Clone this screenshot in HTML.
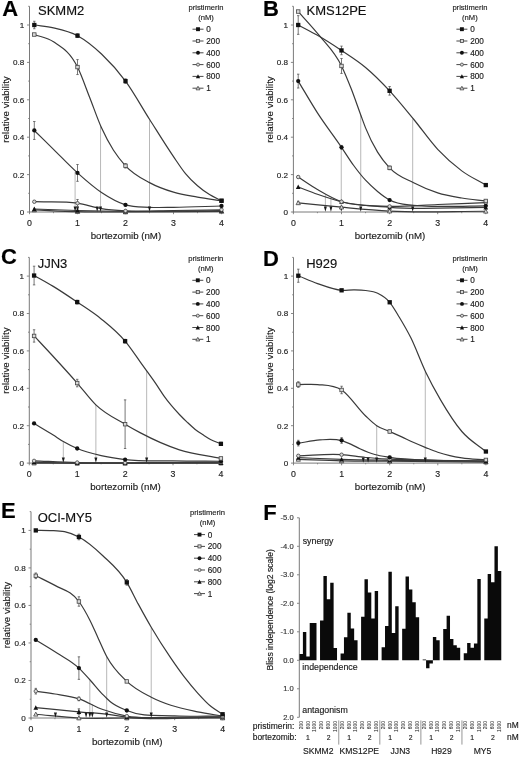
<!DOCTYPE html>
<html><head><meta charset="utf-8"><style>
html,body{margin:0;padding:0;background:#fff;width:520px;height:757px;overflow:hidden}
svg{display:block;filter:grayscale(1)}
text{font-family:"Liberation Sans", sans-serif}
</style></head><body>
<svg width="520" height="757" viewBox="0 0 520 757">
<rect width="520" height="757" fill="#fff"/>
<text x="2.2" y="16.2" font-size="22" font-weight="bold" fill="#000" stroke="#000" stroke-width="0.15">A</text>
<text x="38" y="14.8" font-size="13" fill="#111" stroke="#111" stroke-width="0.15">SKMM2</text>
<line x1="29.5" y1="212.5" x2="29.5" y2="6.3" stroke="#7a7a7a" stroke-width="1"/>
<line x1="27" y1="212" x2="29.5" y2="212" stroke="#7a7a7a" stroke-width="0.9"/>
<line x1="28.2" y1="193.3" x2="29.5" y2="193.3" stroke="#7a7a7a" stroke-width="0.9"/>
<line x1="27" y1="174.6" x2="29.5" y2="174.6" stroke="#7a7a7a" stroke-width="0.9"/>
<line x1="28.2" y1="155.9" x2="29.5" y2="155.9" stroke="#7a7a7a" stroke-width="0.9"/>
<line x1="27" y1="137.2" x2="29.5" y2="137.2" stroke="#7a7a7a" stroke-width="0.9"/>
<line x1="28.2" y1="118.5" x2="29.5" y2="118.5" stroke="#7a7a7a" stroke-width="0.9"/>
<line x1="27" y1="99.8" x2="29.5" y2="99.8" stroke="#7a7a7a" stroke-width="0.9"/>
<line x1="28.2" y1="81.1" x2="29.5" y2="81.1" stroke="#7a7a7a" stroke-width="0.9"/>
<line x1="27" y1="62.4" x2="29.5" y2="62.4" stroke="#7a7a7a" stroke-width="0.9"/>
<line x1="28.2" y1="43.7" x2="29.5" y2="43.7" stroke="#7a7a7a" stroke-width="0.9"/>
<line x1="27" y1="25" x2="29.5" y2="25" stroke="#7a7a7a" stroke-width="0.9"/>
<line x1="28.2" y1="6.3" x2="29.5" y2="6.3" stroke="#7a7a7a" stroke-width="0.9"/>
<text x="24.2" y="214.9" font-size="8.1" text-anchor="end" fill="#222" stroke="#222" stroke-width="0.15">0</text>
<text x="24.2" y="177.5" font-size="8.1" text-anchor="end" fill="#222" stroke="#222" stroke-width="0.15">0.2</text>
<text x="24.2" y="140.1" font-size="8.1" text-anchor="end" fill="#222" stroke="#222" stroke-width="0.15">0.4</text>
<text x="24.2" y="102.7" font-size="8.1" text-anchor="end" fill="#222" stroke="#222" stroke-width="0.15">0.6</text>
<text x="24.2" y="65.3" font-size="8.1" text-anchor="end" fill="#222" stroke="#222" stroke-width="0.15">0.8</text>
<text x="24.2" y="27.9" font-size="8.1" text-anchor="end" fill="#222" stroke="#222" stroke-width="0.15">1</text>
<line x1="29" y1="212" x2="222" y2="212" stroke="#7a7a7a" stroke-width="1"/>
<line x1="29.5" y1="212" x2="29.5" y2="214.2" stroke="#7a7a7a" stroke-width="0.9"/>
<line x1="53.5" y1="212" x2="53.5" y2="213.2" stroke="#7a7a7a" stroke-width="0.9"/>
<line x1="77.5" y1="212" x2="77.5" y2="214.2" stroke="#7a7a7a" stroke-width="0.9"/>
<line x1="101.5" y1="212" x2="101.5" y2="213.2" stroke="#7a7a7a" stroke-width="0.9"/>
<line x1="125.5" y1="212" x2="125.5" y2="214.2" stroke="#7a7a7a" stroke-width="0.9"/>
<line x1="149.5" y1="212" x2="149.5" y2="213.2" stroke="#7a7a7a" stroke-width="0.9"/>
<line x1="173.5" y1="212" x2="173.5" y2="214.2" stroke="#7a7a7a" stroke-width="0.9"/>
<line x1="197.5" y1="212" x2="197.5" y2="213.2" stroke="#7a7a7a" stroke-width="0.9"/>
<line x1="221.5" y1="212" x2="221.5" y2="214.2" stroke="#7a7a7a" stroke-width="0.9"/>
<text x="29.5" y="226.2" font-size="8.8" text-anchor="middle" fill="#222" stroke="#222" stroke-width="0.15">0</text>
<text x="77.5" y="226.2" font-size="8.8" text-anchor="middle" fill="#222" stroke="#222" stroke-width="0.15">1</text>
<text x="125.5" y="226.2" font-size="8.8" text-anchor="middle" fill="#222" stroke="#222" stroke-width="0.15">2</text>
<text x="173.5" y="226.2" font-size="8.8" text-anchor="middle" fill="#222" stroke="#222" stroke-width="0.15">3</text>
<text x="221.5" y="226.2" font-size="8.8" text-anchor="middle" fill="#222" stroke="#222" stroke-width="0.15">4</text>
<text x="125.9" y="239" font-size="9.7" text-anchor="middle" fill="#1a1a1a" stroke="#1a1a1a" stroke-width="0.15">bortezomib (nM)</text>
<text x="0" y="0" font-size="9.8" text-anchor="middle" fill="#1a1a1a" stroke="#1a1a1a" stroke-width="0.15" transform="translate(8.9,109.45) rotate(-90)">relative viability</text>
<text x="206" y="9.6" font-size="7.6" text-anchor="middle" fill="#222" stroke="#222" stroke-width="0.15">pristimerin</text>
<text x="206" y="19.6" font-size="7.6" text-anchor="middle" fill="#222" stroke="#222" stroke-width="0.15">(nM)</text>
<line x1="192.5" y1="29.2" x2="203.5" y2="29.2" stroke="#333" stroke-width="0.9"/>
<rect x="196.05" y="27.25" width="3.9" height="3.9" fill="#111"/>
<text x="206.3" y="32.2" font-size="8.2" fill="#1a1a1a" stroke="#1a1a1a" stroke-width="0.15">0</text>
<line x1="192.5" y1="41" x2="203.5" y2="41" stroke="#333" stroke-width="0.9"/>
<rect x="196.45" y="39.45" width="3.1" height="3.1" fill="#d8d8d8" stroke="#444" stroke-width="0.8"/>
<text x="206.3" y="44" font-size="8.2" fill="#1a1a1a" stroke="#1a1a1a" stroke-width="0.15">200</text>
<line x1="192.5" y1="52.8" x2="203.5" y2="52.8" stroke="#333" stroke-width="0.9"/>
<circle cx="198" cy="52.8" r="1.95" fill="#111"/>
<text x="206.3" y="55.8" font-size="8.2" fill="#1a1a1a" stroke="#1a1a1a" stroke-width="0.15">400</text>
<line x1="192.5" y1="64.6" x2="203.5" y2="64.6" stroke="#333" stroke-width="0.9"/>
<circle cx="198" cy="64.6" r="1.55" fill="#d8d8d8" stroke="#444" stroke-width="0.8"/>
<text x="206.3" y="67.6" font-size="8.2" fill="#1a1a1a" stroke="#1a1a1a" stroke-width="0.15">600</text>
<line x1="192.5" y1="76.4" x2="203.5" y2="76.4" stroke="#333" stroke-width="0.9"/>
<path d="M198,74.15 L200.15,78.35 L195.85,78.35Z" fill="#111"/>
<text x="206.3" y="79.4" font-size="8.2" fill="#1a1a1a" stroke="#1a1a1a" stroke-width="0.15">800</text>
<line x1="192.5" y1="88.2" x2="203.5" y2="88.2" stroke="#333" stroke-width="0.9"/>
<path d="M198,86.25 L199.95,89.85 L196.05,89.85Z" fill="#d8d8d8" stroke="#444" stroke-width="0.8"/>
<text x="206.3" y="91.2" font-size="8.2" fill="#1a1a1a" stroke="#1a1a1a" stroke-width="0.15">1</text>
<line x1="75.1" y1="171.8" x2="75.1" y2="209" stroke="#b0b0b0" stroke-width="0.9"/>
<line x1="77.5" y1="206.76" x2="77.5" y2="209" stroke="#b0b0b0" stroke-width="0.9"/>
<line x1="97.18" y1="209.76" x2="97.18" y2="209" stroke="#b0b0b0" stroke-width="0.9"/>
<line x1="100.54" y1="125.98" x2="100.54" y2="209" stroke="#b0b0b0" stroke-width="0.9"/>
<line x1="149.5" y1="120.37" x2="149.5" y2="209" stroke="#b0b0b0" stroke-width="0.9"/>
<path d="M34.3,209.94 C48.7,210.5 63.1,211.28 77.5,211.63 C93.5,212.01 109.5,211.95 125.5,212 C157.5,212.1 189.5,211.63 221.5,211.44" fill="none" stroke="#3a3a3a" stroke-width="1.2"/>
<path d="M34.3,209.01 C48.7,209.51 63.1,210.11 77.5,210.5 C93.5,210.94 109.5,211.28 125.5,211.44 C157.5,211.75 189.5,210.82 221.5,210.5" fill="none" stroke="#3a3a3a" stroke-width="1.2"/>
<path d="M34.3,201.72 C48.7,202.21 63.1,200.94 77.5,203.21 C85.5,204.47 93.5,207.36 101.5,208.63 C109.5,209.91 117.5,210.4 125.5,210.88 C141.5,211.83 157.5,210.69 173.5,210.5 C189.5,210.32 205.5,210.01 221.5,209.76" fill="none" stroke="#3a3a3a" stroke-width="1.2"/>
<path d="M34.3,130.47 C40.7,136.76 47.1,143.06 53.5,149.35 C61.5,157.22 69.5,165.72 77.5,172.92 C85.5,180.12 93.5,187.22 101.5,192.55 C109.5,197.88 117.5,202.43 125.5,204.89 C133.5,207.36 141.5,206.92 149.5,207.32 C157.5,207.73 165.5,207.4 173.5,207.32 C189.5,207.18 205.5,206.45 221.5,206.02" fill="none" stroke="#3a3a3a" stroke-width="1.2"/>
<path d="M34.3,34.54 C40.7,36.97 47.1,37.49 53.5,41.83 C61.5,47.26 69.5,50.97 77.5,67.07 C81.5,75.13 85.5,86.87 89.5,97 C93.5,107.12 97.5,118.97 101.5,127.85 C105.5,136.73 109.5,143.96 113.5,150.29 C117.5,156.62 121.5,161.43 125.5,165.81 C133.5,174.58 141.5,178.25 149.5,182.64 C157.5,187.04 165.5,189.78 173.5,192.18 C181.5,194.58 189.5,195.61 197.5,197.04 C205.5,198.47 213.5,199.53 221.5,200.78" fill="none" stroke="#3a3a3a" stroke-width="1.2"/>
<path d="M34.3,25 C40.7,25.94 47.1,26.35 53.5,27.81 C61.5,29.62 69.5,31.3 77.5,35.66 C85.5,40.02 93.5,46.41 101.5,53.99 C109.5,61.56 117.5,70.22 125.5,81.1 C133.5,91.98 141.5,106.66 149.5,119.25 C157.5,131.84 165.5,144.93 173.5,156.65 C177.5,162.51 181.5,168.8 185.5,173.66 C189.5,178.53 193.5,182.33 197.5,185.82 C201.5,189.31 205.5,192.12 209.5,194.61 C213.5,197.1 217.5,198.72 221.5,200.78" fill="none" stroke="#3a3a3a" stroke-width="1.2"/>
<path d="M73.6,206.4 L76.6,206.4 L75.1,211.7Z" fill="#1a1a1a"/>
<path d="M76,206.4 L79,206.4 L77.5,211.7Z" fill="#1a1a1a"/>
<path d="M95.68,206.4 L98.68,206.4 L97.18,211.7Z" fill="#1a1a1a"/>
<path d="M99.04,206.4 L102.04,206.4 L100.54,211.7Z" fill="#1a1a1a"/>
<path d="M148,206.4 L151,206.4 L149.5,211.7Z" fill="#1a1a1a"/>
<path d="M34.3,207.79 L36.45,211.79 L32.15,211.79Z" fill="#d8d8d8" stroke="#444" stroke-width="0.8"/>
<path d="M77.5,209.48 L79.65,213.48 L75.35,213.48Z" fill="#d8d8d8" stroke="#444" stroke-width="0.8"/>
<path d="M125.5,209.85 L127.65,213.85 L123.35,213.85Z" fill="#d8d8d8" stroke="#444" stroke-width="0.8"/>
<path d="M221.5,209.29 L223.65,213.29 L219.35,213.29Z" fill="#d8d8d8" stroke="#444" stroke-width="0.8"/>
<path d="M34.3,206.56 L36.65,211.16 L31.95,211.16Z" fill="#111"/>
<path d="M77.5,208.05 L79.85,212.65 L75.15,212.65Z" fill="#111"/>
<path d="M125.5,208.99 L127.85,213.59 L123.15,213.59Z" fill="#111"/>
<path d="M221.5,208.05 L223.85,212.65 L219.15,212.65Z" fill="#111"/>
<line x1="34.3" y1="200.78" x2="34.3" y2="202.65" stroke="#555" stroke-width="0.8"/>
<line x1="33.1" y1="200.78" x2="35.5" y2="200.78" stroke="#555" stroke-width="0.8"/>
<line x1="33.1" y1="202.65" x2="35.5" y2="202.65" stroke="#555" stroke-width="0.8"/>
<circle cx="34.3" cy="201.72" r="1.75" fill="#d8d8d8" stroke="#444" stroke-width="0.8"/>
<line x1="77.5" y1="199.47" x2="77.5" y2="206.95" stroke="#555" stroke-width="0.8"/>
<line x1="76.3" y1="199.47" x2="78.7" y2="199.47" stroke="#555" stroke-width="0.8"/>
<line x1="76.3" y1="206.95" x2="78.7" y2="206.95" stroke="#555" stroke-width="0.8"/>
<circle cx="77.5" cy="203.21" r="1.75" fill="#d8d8d8" stroke="#444" stroke-width="0.8"/>
<circle cx="125.5" cy="210.88" r="1.75" fill="#d8d8d8" stroke="#444" stroke-width="0.8"/>
<circle cx="221.5" cy="209.76" r="1.75" fill="#d8d8d8" stroke="#444" stroke-width="0.8"/>
<line x1="34.3" y1="121.49" x2="34.3" y2="139.44" stroke="#555" stroke-width="0.8"/>
<line x1="33.1" y1="121.49" x2="35.5" y2="121.49" stroke="#555" stroke-width="0.8"/>
<line x1="33.1" y1="139.44" x2="35.5" y2="139.44" stroke="#555" stroke-width="0.8"/>
<circle cx="34.3" cy="130.47" r="2.15" fill="#111"/>
<line x1="77.5" y1="164.5" x2="77.5" y2="181.33" stroke="#555" stroke-width="0.8"/>
<line x1="76.3" y1="164.5" x2="78.7" y2="164.5" stroke="#555" stroke-width="0.8"/>
<line x1="76.3" y1="181.33" x2="78.7" y2="181.33" stroke="#555" stroke-width="0.8"/>
<circle cx="77.5" cy="172.92" r="2.15" fill="#111"/>
<line x1="125.5" y1="203.96" x2="125.5" y2="205.83" stroke="#555" stroke-width="0.8"/>
<line x1="124.3" y1="203.96" x2="126.7" y2="203.96" stroke="#555" stroke-width="0.8"/>
<line x1="124.3" y1="205.83" x2="126.7" y2="205.83" stroke="#555" stroke-width="0.8"/>
<circle cx="125.5" cy="204.89" r="2.15" fill="#111"/>
<circle cx="221.5" cy="206.02" r="2.15" fill="#111"/>
<line x1="34.3" y1="33.6" x2="34.3" y2="35.47" stroke="#555" stroke-width="0.8"/>
<line x1="33.1" y1="33.6" x2="35.5" y2="33.6" stroke="#555" stroke-width="0.8"/>
<line x1="33.1" y1="35.47" x2="35.5" y2="35.47" stroke="#555" stroke-width="0.8"/>
<rect x="32.55" y="32.79" width="3.5" height="3.5" fill="#d8d8d8" stroke="#444" stroke-width="0.8"/>
<line x1="77.5" y1="59.59" x2="77.5" y2="74.56" stroke="#555" stroke-width="0.8"/>
<line x1="76.3" y1="59.59" x2="78.7" y2="59.59" stroke="#555" stroke-width="0.8"/>
<line x1="76.3" y1="74.56" x2="78.7" y2="74.56" stroke="#555" stroke-width="0.8"/>
<rect x="75.75" y="65.32" width="3.5" height="3.5" fill="#d8d8d8" stroke="#444" stroke-width="0.8"/>
<line x1="125.5" y1="163.57" x2="125.5" y2="168.06" stroke="#555" stroke-width="0.8"/>
<line x1="124.3" y1="163.57" x2="126.7" y2="163.57" stroke="#555" stroke-width="0.8"/>
<line x1="124.3" y1="168.06" x2="126.7" y2="168.06" stroke="#555" stroke-width="0.8"/>
<rect x="123.75" y="164.06" width="3.5" height="3.5" fill="#d8d8d8" stroke="#444" stroke-width="0.8"/>
<rect x="219.75" y="199.03" width="3.5" height="3.5" fill="#d8d8d8" stroke="#444" stroke-width="0.8"/>
<line x1="34.3" y1="21.26" x2="34.3" y2="28.74" stroke="#555" stroke-width="0.8"/>
<line x1="33.1" y1="21.26" x2="35.5" y2="21.26" stroke="#555" stroke-width="0.8"/>
<line x1="33.1" y1="28.74" x2="35.5" y2="28.74" stroke="#555" stroke-width="0.8"/>
<rect x="32.15" y="22.85" width="4.3" height="4.3" fill="#111"/>
<line x1="77.5" y1="33.79" x2="77.5" y2="37.53" stroke="#555" stroke-width="0.8"/>
<line x1="76.3" y1="33.79" x2="78.7" y2="33.79" stroke="#555" stroke-width="0.8"/>
<line x1="76.3" y1="37.53" x2="78.7" y2="37.53" stroke="#555" stroke-width="0.8"/>
<rect x="75.35" y="33.51" width="4.3" height="4.3" fill="#111"/>
<line x1="125.5" y1="78.86" x2="125.5" y2="83.34" stroke="#555" stroke-width="0.8"/>
<line x1="124.3" y1="78.86" x2="126.7" y2="78.86" stroke="#555" stroke-width="0.8"/>
<line x1="124.3" y1="83.34" x2="126.7" y2="83.34" stroke="#555" stroke-width="0.8"/>
<rect x="123.35" y="78.95" width="4.3" height="4.3" fill="#111"/>
<line x1="221.5" y1="199.84" x2="221.5" y2="201.72" stroke="#555" stroke-width="0.8"/>
<line x1="220.3" y1="199.84" x2="222.7" y2="199.84" stroke="#555" stroke-width="0.8"/>
<line x1="220.3" y1="201.72" x2="222.7" y2="201.72" stroke="#555" stroke-width="0.8"/>
<rect x="219.35" y="198.63" width="4.3" height="4.3" fill="#111"/>
<text x="263" y="15.8" font-size="22" font-weight="bold" fill="#000" stroke="#000" stroke-width="0.15">B</text>
<text x="306.5" y="15.2" font-size="13" fill="#111" stroke="#111" stroke-width="0.15">KMS12PE</text>
<line x1="293.4" y1="212.5" x2="293.4" y2="6.3" stroke="#7a7a7a" stroke-width="1"/>
<line x1="290.9" y1="212" x2="293.4" y2="212" stroke="#7a7a7a" stroke-width="0.9"/>
<line x1="292.1" y1="193.3" x2="293.4" y2="193.3" stroke="#7a7a7a" stroke-width="0.9"/>
<line x1="290.9" y1="174.6" x2="293.4" y2="174.6" stroke="#7a7a7a" stroke-width="0.9"/>
<line x1="292.1" y1="155.9" x2="293.4" y2="155.9" stroke="#7a7a7a" stroke-width="0.9"/>
<line x1="290.9" y1="137.2" x2="293.4" y2="137.2" stroke="#7a7a7a" stroke-width="0.9"/>
<line x1="292.1" y1="118.5" x2="293.4" y2="118.5" stroke="#7a7a7a" stroke-width="0.9"/>
<line x1="290.9" y1="99.8" x2="293.4" y2="99.8" stroke="#7a7a7a" stroke-width="0.9"/>
<line x1="292.1" y1="81.1" x2="293.4" y2="81.1" stroke="#7a7a7a" stroke-width="0.9"/>
<line x1="290.9" y1="62.4" x2="293.4" y2="62.4" stroke="#7a7a7a" stroke-width="0.9"/>
<line x1="292.1" y1="43.7" x2="293.4" y2="43.7" stroke="#7a7a7a" stroke-width="0.9"/>
<line x1="290.9" y1="25" x2="293.4" y2="25" stroke="#7a7a7a" stroke-width="0.9"/>
<line x1="292.1" y1="6.3" x2="293.4" y2="6.3" stroke="#7a7a7a" stroke-width="0.9"/>
<text x="288.1" y="214.9" font-size="8.1" text-anchor="end" fill="#222" stroke="#222" stroke-width="0.15">0</text>
<text x="288.1" y="177.5" font-size="8.1" text-anchor="end" fill="#222" stroke="#222" stroke-width="0.15">0.2</text>
<text x="288.1" y="140.1" font-size="8.1" text-anchor="end" fill="#222" stroke="#222" stroke-width="0.15">0.4</text>
<text x="288.1" y="102.7" font-size="8.1" text-anchor="end" fill="#222" stroke="#222" stroke-width="0.15">0.6</text>
<text x="288.1" y="65.3" font-size="8.1" text-anchor="end" fill="#222" stroke="#222" stroke-width="0.15">0.8</text>
<text x="288.1" y="27.9" font-size="8.1" text-anchor="end" fill="#222" stroke="#222" stroke-width="0.15">1</text>
<line x1="292.9" y1="212" x2="486.3" y2="212" stroke="#7a7a7a" stroke-width="1"/>
<line x1="293.4" y1="212" x2="293.4" y2="214.2" stroke="#7a7a7a" stroke-width="0.9"/>
<line x1="317.45" y1="212" x2="317.45" y2="213.2" stroke="#7a7a7a" stroke-width="0.9"/>
<line x1="341.5" y1="212" x2="341.5" y2="214.2" stroke="#7a7a7a" stroke-width="0.9"/>
<line x1="365.55" y1="212" x2="365.55" y2="213.2" stroke="#7a7a7a" stroke-width="0.9"/>
<line x1="389.6" y1="212" x2="389.6" y2="214.2" stroke="#7a7a7a" stroke-width="0.9"/>
<line x1="413.65" y1="212" x2="413.65" y2="213.2" stroke="#7a7a7a" stroke-width="0.9"/>
<line x1="437.7" y1="212" x2="437.7" y2="214.2" stroke="#7a7a7a" stroke-width="0.9"/>
<line x1="461.75" y1="212" x2="461.75" y2="213.2" stroke="#7a7a7a" stroke-width="0.9"/>
<line x1="485.8" y1="212" x2="485.8" y2="214.2" stroke="#7a7a7a" stroke-width="0.9"/>
<text x="293.4" y="226.2" font-size="8.8" text-anchor="middle" fill="#222" stroke="#222" stroke-width="0.15">0</text>
<text x="341.5" y="226.2" font-size="8.8" text-anchor="middle" fill="#222" stroke="#222" stroke-width="0.15">1</text>
<text x="389.6" y="226.2" font-size="8.8" text-anchor="middle" fill="#222" stroke="#222" stroke-width="0.15">2</text>
<text x="437.7" y="226.2" font-size="8.8" text-anchor="middle" fill="#222" stroke="#222" stroke-width="0.15">3</text>
<text x="485.8" y="226.2" font-size="8.8" text-anchor="middle" fill="#222" stroke="#222" stroke-width="0.15">4</text>
<text x="390" y="239" font-size="9.7" text-anchor="middle" fill="#1a1a1a" stroke="#1a1a1a" stroke-width="0.15">bortezomib (nM)</text>
<text x="0" y="0" font-size="9.8" text-anchor="middle" fill="#1a1a1a" stroke="#1a1a1a" stroke-width="0.15" transform="translate(272.8,109.45) rotate(-90)">relative viability</text>
<text x="469.9" y="9.6" font-size="7.6" text-anchor="middle" fill="#222" stroke="#222" stroke-width="0.15">pristimerin</text>
<text x="469.9" y="19.6" font-size="7.6" text-anchor="middle" fill="#222" stroke="#222" stroke-width="0.15">(nM)</text>
<line x1="456.4" y1="29.2" x2="467.4" y2="29.2" stroke="#333" stroke-width="0.9"/>
<rect x="459.95" y="27.25" width="3.9" height="3.9" fill="#111"/>
<text x="470.2" y="32.2" font-size="8.2" fill="#1a1a1a" stroke="#1a1a1a" stroke-width="0.15">0</text>
<line x1="456.4" y1="41" x2="467.4" y2="41" stroke="#333" stroke-width="0.9"/>
<rect x="460.35" y="39.45" width="3.1" height="3.1" fill="#d8d8d8" stroke="#444" stroke-width="0.8"/>
<text x="470.2" y="44" font-size="8.2" fill="#1a1a1a" stroke="#1a1a1a" stroke-width="0.15">200</text>
<line x1="456.4" y1="52.8" x2="467.4" y2="52.8" stroke="#333" stroke-width="0.9"/>
<circle cx="461.9" cy="52.8" r="1.95" fill="#111"/>
<text x="470.2" y="55.8" font-size="8.2" fill="#1a1a1a" stroke="#1a1a1a" stroke-width="0.15">400</text>
<line x1="456.4" y1="64.6" x2="467.4" y2="64.6" stroke="#333" stroke-width="0.9"/>
<circle cx="461.9" cy="64.6" r="1.55" fill="#d8d8d8" stroke="#444" stroke-width="0.8"/>
<text x="470.2" y="67.6" font-size="8.2" fill="#1a1a1a" stroke="#1a1a1a" stroke-width="0.15">600</text>
<line x1="456.4" y1="76.4" x2="467.4" y2="76.4" stroke="#333" stroke-width="0.9"/>
<path d="M461.9,74.15 L464.05,78.35 L459.75,78.35Z" fill="#111"/>
<text x="470.2" y="79.4" font-size="8.2" fill="#1a1a1a" stroke="#1a1a1a" stroke-width="0.15">800</text>
<line x1="456.4" y1="88.2" x2="467.4" y2="88.2" stroke="#333" stroke-width="0.9"/>
<path d="M461.9,86.25 L463.85,89.85 L459.95,89.85Z" fill="#d8d8d8" stroke="#444" stroke-width="0.8"/>
<text x="470.2" y="91.2" font-size="8.2" fill="#1a1a1a" stroke="#1a1a1a" stroke-width="0.15">1</text>
<line x1="325.39" y1="195.17" x2="325.39" y2="209" stroke="#b0b0b0" stroke-width="0.9"/>
<line x1="330.92" y1="198.91" x2="330.92" y2="209" stroke="#b0b0b0" stroke-width="0.9"/>
<line x1="341.26" y1="146.55" x2="341.26" y2="209" stroke="#b0b0b0" stroke-width="0.9"/>
<line x1="360.74" y1="114.95" x2="360.74" y2="209" stroke="#b0b0b0" stroke-width="0.9"/>
<line x1="412.69" y1="119.25" x2="412.69" y2="209" stroke="#b0b0b0" stroke-width="0.9"/>
<path d="M298.21,202.84 C312.64,204.27 327.07,205.83 341.5,207.14 C357.53,208.6 373.57,210.18 389.6,211.06 C421.67,212.83 453.73,211.19 485.8,211.25" fill="none" stroke="#3a3a3a" stroke-width="1.2"/>
<path d="M298.21,186.94 C304.62,189.37 311.04,192 317.45,194.24 C325.47,197.03 333.48,199.74 341.5,201.72 C357.53,205.66 373.57,206.08 389.6,207.32 C421.67,209.82 453.73,207.32 485.8,207.32" fill="none" stroke="#3a3a3a" stroke-width="1.2"/>
<path d="M298.21,177.03 C304.62,181.21 311.04,185.8 317.45,189.56 C325.47,194.26 333.48,199.07 341.5,201.72 C349.52,204.36 357.53,204.68 365.55,205.46 C373.57,206.23 381.58,206.29 389.6,206.39 C405.63,206.6 421.67,205.14 437.7,204.52 C453.73,203.9 469.77,203.27 485.8,202.65" fill="none" stroke="#3a3a3a" stroke-width="1.2"/>
<path d="M298.21,81.1 C304.62,91.7 311.04,102.92 317.45,112.89 C325.47,125.35 333.48,135.5 341.5,147.3 C345.51,153.2 349.52,159.76 353.52,165.25 C357.53,170.74 361.54,175.85 365.55,180.21 C369.56,184.57 373.57,188.13 377.57,191.43 C381.58,194.73 385.59,197.82 389.6,200.03 C397.62,204.46 405.63,204.4 413.65,205.46 C421.67,206.51 429.68,206.21 437.7,206.39 C453.73,206.74 469.77,206.02 485.8,205.83" fill="none" stroke="#3a3a3a" stroke-width="1.2"/>
<path d="M298.21,11.54 C305.42,19.76 312.64,27.15 319.85,36.22 C327.07,45.29 334.28,51.15 341.5,65.95 C344.71,72.53 347.91,80.41 351.12,88.58 C354.33,96.75 357.53,106.28 360.74,114.95 C362.34,119.28 363.95,123.85 365.55,127.85 C369.56,137.85 373.57,145.49 377.57,152.16 C381.58,158.83 385.59,163.55 389.6,167.87 C397.62,176.51 405.63,178.65 413.65,182.83 C421.67,187 429.68,190.4 437.7,192.93 C445.72,195.45 453.73,196.63 461.75,197.97 C469.77,199.32 477.78,199.97 485.8,200.97" fill="none" stroke="#3a3a3a" stroke-width="1.2"/>
<path d="M298.21,25 C304.62,28.43 311.04,31.59 317.45,35.28 C325.47,39.91 333.48,45.07 341.5,50.43 C349.52,55.79 357.53,60.72 365.55,67.45 C373.57,74.18 381.58,82.19 389.6,90.82 C397.62,99.46 405.63,109.49 413.65,119.25 C421.67,129 429.68,140.75 437.7,149.35 C445.72,157.96 453.73,164.91 461.75,170.86 C469.77,176.81 477.78,180.33 485.8,185.07" fill="none" stroke="#3a3a3a" stroke-width="1.2"/>
<path d="M323.89,206.4 L326.89,206.4 L325.39,211.7Z" fill="#1a1a1a"/>
<path d="M329.42,206.4 L332.42,206.4 L330.92,211.7Z" fill="#1a1a1a"/>
<path d="M339.76,206.4 L342.76,206.4 L341.26,211.7Z" fill="#1a1a1a"/>
<path d="M359.24,206.4 L362.24,206.4 L360.74,211.7Z" fill="#1a1a1a"/>
<path d="M411.19,206.4 L414.19,206.4 L412.69,211.7Z" fill="#1a1a1a"/>
<line x1="298.21" y1="201.34" x2="298.21" y2="204.33" stroke="#555" stroke-width="0.8"/>
<line x1="297.01" y1="201.34" x2="299.41" y2="201.34" stroke="#555" stroke-width="0.8"/>
<line x1="297.01" y1="204.33" x2="299.41" y2="204.33" stroke="#555" stroke-width="0.8"/>
<path d="M298.21,200.69 L300.36,204.69 L296.06,204.69Z" fill="#d8d8d8" stroke="#444" stroke-width="0.8"/>
<path d="M341.5,204.99 L343.65,208.99 L339.35,208.99Z" fill="#d8d8d8" stroke="#444" stroke-width="0.8"/>
<path d="M389.6,208.91 L391.75,212.91 L387.45,212.91Z" fill="#d8d8d8" stroke="#444" stroke-width="0.8"/>
<path d="M485.8,209.1 L487.95,213.1 L483.65,213.1Z" fill="#d8d8d8" stroke="#444" stroke-width="0.8"/>
<path d="M298.21,184.49 L300.56,189.09 L295.86,189.09Z" fill="#111"/>
<path d="M341.5,199.26 L343.85,203.87 L339.15,203.87Z" fill="#111"/>
<path d="M389.6,204.87 L391.95,209.47 L387.25,209.47Z" fill="#111"/>
<path d="M485.8,204.87 L488.15,209.47 L483.45,209.47Z" fill="#111"/>
<line x1="298.21" y1="176.1" x2="298.21" y2="177.97" stroke="#555" stroke-width="0.8"/>
<line x1="297.01" y1="176.1" x2="299.41" y2="176.1" stroke="#555" stroke-width="0.8"/>
<line x1="297.01" y1="177.97" x2="299.41" y2="177.97" stroke="#555" stroke-width="0.8"/>
<circle cx="298.21" cy="177.03" r="1.75" fill="#d8d8d8" stroke="#444" stroke-width="0.8"/>
<circle cx="341.5" cy="201.72" r="1.75" fill="#d8d8d8" stroke="#444" stroke-width="0.8"/>
<circle cx="389.6" cy="206.39" r="1.75" fill="#d8d8d8" stroke="#444" stroke-width="0.8"/>
<circle cx="485.8" cy="202.65" r="1.75" fill="#d8d8d8" stroke="#444" stroke-width="0.8"/>
<line x1="298.21" y1="74.18" x2="298.21" y2="88.02" stroke="#555" stroke-width="0.8"/>
<line x1="297.01" y1="74.18" x2="299.41" y2="74.18" stroke="#555" stroke-width="0.8"/>
<line x1="297.01" y1="88.02" x2="299.41" y2="88.02" stroke="#555" stroke-width="0.8"/>
<circle cx="298.21" cy="81.1" r="2.15" fill="#111"/>
<line x1="341.5" y1="145.43" x2="341.5" y2="149.17" stroke="#555" stroke-width="0.8"/>
<line x1="340.3" y1="145.43" x2="342.7" y2="145.43" stroke="#555" stroke-width="0.8"/>
<line x1="340.3" y1="149.17" x2="342.7" y2="149.17" stroke="#555" stroke-width="0.8"/>
<circle cx="341.5" cy="147.3" r="2.15" fill="#111"/>
<line x1="389.6" y1="199.1" x2="389.6" y2="200.97" stroke="#555" stroke-width="0.8"/>
<line x1="388.4" y1="199.1" x2="390.8" y2="199.1" stroke="#555" stroke-width="0.8"/>
<line x1="388.4" y1="200.97" x2="390.8" y2="200.97" stroke="#555" stroke-width="0.8"/>
<circle cx="389.6" cy="200.03" r="2.15" fill="#111"/>
<circle cx="485.8" cy="205.83" r="2.15" fill="#111"/>
<line x1="298.21" y1="10.6" x2="298.21" y2="12.47" stroke="#555" stroke-width="0.8"/>
<line x1="297.01" y1="10.6" x2="299.41" y2="10.6" stroke="#555" stroke-width="0.8"/>
<line x1="297.01" y1="12.47" x2="299.41" y2="12.47" stroke="#555" stroke-width="0.8"/>
<rect x="296.46" y="9.79" width="3.5" height="3.5" fill="#d8d8d8" stroke="#444" stroke-width="0.8"/>
<line x1="341.5" y1="58.47" x2="341.5" y2="73.43" stroke="#555" stroke-width="0.8"/>
<line x1="340.3" y1="58.47" x2="342.7" y2="58.47" stroke="#555" stroke-width="0.8"/>
<line x1="340.3" y1="73.43" x2="342.7" y2="73.43" stroke="#555" stroke-width="0.8"/>
<rect x="339.75" y="64.2" width="3.5" height="3.5" fill="#d8d8d8" stroke="#444" stroke-width="0.8"/>
<line x1="389.6" y1="166" x2="389.6" y2="169.74" stroke="#555" stroke-width="0.8"/>
<line x1="388.4" y1="166" x2="390.8" y2="166" stroke="#555" stroke-width="0.8"/>
<line x1="388.4" y1="169.74" x2="390.8" y2="169.74" stroke="#555" stroke-width="0.8"/>
<rect x="387.85" y="166.12" width="3.5" height="3.5" fill="#d8d8d8" stroke="#444" stroke-width="0.8"/>
<line x1="485.8" y1="200.03" x2="485.8" y2="201.9" stroke="#555" stroke-width="0.8"/>
<line x1="484.6" y1="200.03" x2="487" y2="200.03" stroke="#555" stroke-width="0.8"/>
<line x1="484.6" y1="201.9" x2="487" y2="201.9" stroke="#555" stroke-width="0.8"/>
<rect x="484.05" y="199.22" width="3.5" height="3.5" fill="#d8d8d8" stroke="#444" stroke-width="0.8"/>
<line x1="298.21" y1="15.65" x2="298.21" y2="34.35" stroke="#555" stroke-width="0.8"/>
<line x1="297.01" y1="15.65" x2="299.41" y2="15.65" stroke="#555" stroke-width="0.8"/>
<line x1="297.01" y1="34.35" x2="299.41" y2="34.35" stroke="#555" stroke-width="0.8"/>
<rect x="296.06" y="22.85" width="4.3" height="4.3" fill="#111"/>
<line x1="341.5" y1="46.13" x2="341.5" y2="54.73" stroke="#555" stroke-width="0.8"/>
<line x1="340.3" y1="46.13" x2="342.7" y2="46.13" stroke="#555" stroke-width="0.8"/>
<line x1="340.3" y1="54.73" x2="342.7" y2="54.73" stroke="#555" stroke-width="0.8"/>
<rect x="339.35" y="48.28" width="4.3" height="4.3" fill="#111"/>
<line x1="389.6" y1="86.52" x2="389.6" y2="95.12" stroke="#555" stroke-width="0.8"/>
<line x1="388.4" y1="86.52" x2="390.8" y2="86.52" stroke="#555" stroke-width="0.8"/>
<line x1="388.4" y1="95.12" x2="390.8" y2="95.12" stroke="#555" stroke-width="0.8"/>
<rect x="387.45" y="88.67" width="4.3" height="4.3" fill="#111"/>
<line x1="485.8" y1="184.14" x2="485.8" y2="186.01" stroke="#555" stroke-width="0.8"/>
<line x1="484.6" y1="184.14" x2="487" y2="184.14" stroke="#555" stroke-width="0.8"/>
<line x1="484.6" y1="186.01" x2="487" y2="186.01" stroke="#555" stroke-width="0.8"/>
<rect x="483.65" y="182.92" width="4.3" height="4.3" fill="#111"/>
<text x="1" y="264.3" font-size="22" font-weight="bold" fill="#000" stroke="#000" stroke-width="0.15">C</text>
<text x="37.7" y="268" font-size="13" fill="#111" stroke="#111" stroke-width="0.15">JJN3</text>
<line x1="29.3" y1="463.6" x2="29.3" y2="257.4" stroke="#7a7a7a" stroke-width="1"/>
<line x1="26.8" y1="463.1" x2="29.3" y2="463.1" stroke="#7a7a7a" stroke-width="0.9"/>
<line x1="28" y1="444.4" x2="29.3" y2="444.4" stroke="#7a7a7a" stroke-width="0.9"/>
<line x1="26.8" y1="425.7" x2="29.3" y2="425.7" stroke="#7a7a7a" stroke-width="0.9"/>
<line x1="28" y1="407" x2="29.3" y2="407" stroke="#7a7a7a" stroke-width="0.9"/>
<line x1="26.8" y1="388.3" x2="29.3" y2="388.3" stroke="#7a7a7a" stroke-width="0.9"/>
<line x1="28" y1="369.6" x2="29.3" y2="369.6" stroke="#7a7a7a" stroke-width="0.9"/>
<line x1="26.8" y1="350.9" x2="29.3" y2="350.9" stroke="#7a7a7a" stroke-width="0.9"/>
<line x1="28" y1="332.2" x2="29.3" y2="332.2" stroke="#7a7a7a" stroke-width="0.9"/>
<line x1="26.8" y1="313.5" x2="29.3" y2="313.5" stroke="#7a7a7a" stroke-width="0.9"/>
<line x1="28" y1="294.8" x2="29.3" y2="294.8" stroke="#7a7a7a" stroke-width="0.9"/>
<line x1="26.8" y1="276.1" x2="29.3" y2="276.1" stroke="#7a7a7a" stroke-width="0.9"/>
<line x1="28" y1="257.4" x2="29.3" y2="257.4" stroke="#7a7a7a" stroke-width="0.9"/>
<text x="24" y="466" font-size="8.1" text-anchor="end" fill="#222" stroke="#222" stroke-width="0.15">0</text>
<text x="24" y="428.6" font-size="8.1" text-anchor="end" fill="#222" stroke="#222" stroke-width="0.15">0.2</text>
<text x="24" y="391.2" font-size="8.1" text-anchor="end" fill="#222" stroke="#222" stroke-width="0.15">0.4</text>
<text x="24" y="353.8" font-size="8.1" text-anchor="end" fill="#222" stroke="#222" stroke-width="0.15">0.6</text>
<text x="24" y="316.4" font-size="8.1" text-anchor="end" fill="#222" stroke="#222" stroke-width="0.15">0.8</text>
<text x="24" y="279" font-size="8.1" text-anchor="end" fill="#222" stroke="#222" stroke-width="0.15">1</text>
<line x1="28.8" y1="463.1" x2="221.4" y2="463.1" stroke="#7a7a7a" stroke-width="1"/>
<line x1="29.3" y1="463.1" x2="29.3" y2="465.3" stroke="#7a7a7a" stroke-width="0.9"/>
<line x1="53.25" y1="463.1" x2="53.25" y2="464.3" stroke="#7a7a7a" stroke-width="0.9"/>
<line x1="77.2" y1="463.1" x2="77.2" y2="465.3" stroke="#7a7a7a" stroke-width="0.9"/>
<line x1="101.15" y1="463.1" x2="101.15" y2="464.3" stroke="#7a7a7a" stroke-width="0.9"/>
<line x1="125.1" y1="463.1" x2="125.1" y2="465.3" stroke="#7a7a7a" stroke-width="0.9"/>
<line x1="149.05" y1="463.1" x2="149.05" y2="464.3" stroke="#7a7a7a" stroke-width="0.9"/>
<line x1="173" y1="463.1" x2="173" y2="465.3" stroke="#7a7a7a" stroke-width="0.9"/>
<line x1="196.95" y1="463.1" x2="196.95" y2="464.3" stroke="#7a7a7a" stroke-width="0.9"/>
<line x1="220.9" y1="463.1" x2="220.9" y2="465.3" stroke="#7a7a7a" stroke-width="0.9"/>
<text x="29.3" y="477.3" font-size="8.8" text-anchor="middle" fill="#222" stroke="#222" stroke-width="0.15">0</text>
<text x="77.2" y="477.3" font-size="8.8" text-anchor="middle" fill="#222" stroke="#222" stroke-width="0.15">1</text>
<text x="125.1" y="477.3" font-size="8.8" text-anchor="middle" fill="#222" stroke="#222" stroke-width="0.15">2</text>
<text x="173" y="477.3" font-size="8.8" text-anchor="middle" fill="#222" stroke="#222" stroke-width="0.15">3</text>
<text x="220.9" y="477.3" font-size="8.8" text-anchor="middle" fill="#222" stroke="#222" stroke-width="0.15">4</text>
<text x="125.5" y="490.1" font-size="9.7" text-anchor="middle" fill="#1a1a1a" stroke="#1a1a1a" stroke-width="0.15">bortezomib (nM)</text>
<text x="0" y="0" font-size="9.8" text-anchor="middle" fill="#1a1a1a" stroke="#1a1a1a" stroke-width="0.15" transform="translate(8.7,360.55) rotate(-90)">relative viability</text>
<text x="205.8" y="260.7" font-size="7.6" text-anchor="middle" fill="#222" stroke="#222" stroke-width="0.15">pristimerin</text>
<text x="205.8" y="270.7" font-size="7.6" text-anchor="middle" fill="#222" stroke="#222" stroke-width="0.15">(nM)</text>
<line x1="192.3" y1="280.3" x2="203.3" y2="280.3" stroke="#333" stroke-width="0.9"/>
<rect x="195.85" y="278.35" width="3.9" height="3.9" fill="#111"/>
<text x="206.1" y="283.3" font-size="8.2" fill="#1a1a1a" stroke="#1a1a1a" stroke-width="0.15">0</text>
<line x1="192.3" y1="292.1" x2="203.3" y2="292.1" stroke="#333" stroke-width="0.9"/>
<rect x="196.25" y="290.55" width="3.1" height="3.1" fill="#d8d8d8" stroke="#444" stroke-width="0.8"/>
<text x="206.1" y="295.1" font-size="8.2" fill="#1a1a1a" stroke="#1a1a1a" stroke-width="0.15">200</text>
<line x1="192.3" y1="303.9" x2="203.3" y2="303.9" stroke="#333" stroke-width="0.9"/>
<circle cx="197.8" cy="303.9" r="1.95" fill="#111"/>
<text x="206.1" y="306.9" font-size="8.2" fill="#1a1a1a" stroke="#1a1a1a" stroke-width="0.15">400</text>
<line x1="192.3" y1="315.7" x2="203.3" y2="315.7" stroke="#333" stroke-width="0.9"/>
<circle cx="197.8" cy="315.7" r="1.55" fill="#d8d8d8" stroke="#444" stroke-width="0.8"/>
<text x="206.1" y="318.7" font-size="8.2" fill="#1a1a1a" stroke="#1a1a1a" stroke-width="0.15">600</text>
<line x1="192.3" y1="327.5" x2="203.3" y2="327.5" stroke="#333" stroke-width="0.9"/>
<path d="M197.8,325.25 L199.95,329.45 L195.65,329.45Z" fill="#111"/>
<text x="206.1" y="330.5" font-size="8.2" fill="#1a1a1a" stroke="#1a1a1a" stroke-width="0.15">800</text>
<line x1="192.3" y1="339.3" x2="203.3" y2="339.3" stroke="#333" stroke-width="0.9"/>
<path d="M197.8,337.35 L199.75,340.95 L195.85,340.95Z" fill="#d8d8d8" stroke="#444" stroke-width="0.8"/>
<text x="206.1" y="342.3" font-size="8.2" fill="#1a1a1a" stroke="#1a1a1a" stroke-width="0.15">1</text>
<line x1="63.31" y1="441.6" x2="63.31" y2="460.1" stroke="#b0b0b0" stroke-width="0.9"/>
<line x1="95.88" y1="404.94" x2="95.88" y2="460.1" stroke="#b0b0b0" stroke-width="0.9"/>
<line x1="146.66" y1="371" x2="146.66" y2="460.1" stroke="#b0b0b0" stroke-width="0.9"/>
<path d="M34.09,463.1 C48.46,463.1 62.83,463.1 77.2,463.1 C93.17,463.1 109.13,463.1 125.1,463.1 C157.03,463.1 188.97,463.1 220.9,463.1" fill="none" stroke="#3a3a3a" stroke-width="1.2"/>
<path d="M34.09,462.17 C48.46,462.48 62.83,462.94 77.2,463.1 C93.17,463.28 109.13,463.12 125.1,463.1 C157.03,463.06 188.97,462.85 220.9,462.73" fill="none" stroke="#3a3a3a" stroke-width="1.2"/>
<path d="M34.09,460.86 C48.46,461.42 62.83,462.22 77.2,462.54 C93.17,462.9 109.13,462.72 125.1,462.73 C157.03,462.75 188.97,462.35 220.9,462.17" fill="none" stroke="#3a3a3a" stroke-width="1.2"/>
<path d="M34.09,423.46 C40.48,427.32 46.86,430.99 53.25,435.05 C56.6,437.18 59.96,439.63 63.31,441.6 C67.94,444.31 72.57,446.55 77.2,448.51 C85.18,451.9 93.17,453.78 101.15,455.62 C109.13,457.46 117.12,458.6 125.1,459.55 C141.07,461.44 157.03,460.58 173,460.86 C188.97,461.14 204.93,461.11 220.9,461.23" fill="none" stroke="#3a3a3a" stroke-width="1.2"/>
<path d="M34.09,335.94 C40.48,342.8 46.86,349.55 53.25,356.51 C61.23,365.21 69.22,373.93 77.2,383.06 C83.43,390.19 89.65,398.89 95.88,404.94 C105.62,414.41 115.36,418.39 125.1,424.2 C130.07,427.17 135.03,429.99 140,432.62 C153.14,439.58 166.28,445.55 179.42,449.82 C193.25,454.31 207.07,455.56 220.9,458.43" fill="none" stroke="#3a3a3a" stroke-width="1.2"/>
<path d="M34.09,275.54 C40.48,279.15 46.86,282.51 53.25,286.38 C61.23,291.22 69.22,296.67 77.2,302.09 C85.18,307.52 93.17,312.41 101.15,318.92 C109.13,325.44 117.12,331.6 125.1,341.18 C130.07,347.13 135.03,354.69 140,361.56 C142.1,364.47 144.21,367.41 146.32,370.35 C149.48,374.75 152.64,379 155.8,383.62 C158.44,387.48 161.07,391.9 163.71,395.59 C166.31,399.24 168.91,402.56 171.52,405.69 C174.15,408.86 176.78,411.71 179.42,414.48 C182.05,417.25 184.69,419.84 187.32,422.33 C189.96,424.83 192.59,427.35 195.23,429.44 C197.84,431.52 200.46,433.15 203.08,434.86 C205.72,436.58 208.35,438.34 210.98,439.73 C214.29,441.46 217.59,442.47 220.9,443.84" fill="none" stroke="#3a3a3a" stroke-width="1.2"/>
<path d="M61.81,457.5 L64.81,457.5 L63.31,462.8Z" fill="#1a1a1a"/>
<path d="M94.38,457.5 L97.38,457.5 L95.88,462.8Z" fill="#1a1a1a"/>
<path d="M145.16,457.5 L148.16,457.5 L146.66,462.8Z" fill="#1a1a1a"/>
<path d="M34.09,460.95 L36.24,464.95 L31.94,464.95Z" fill="#d8d8d8" stroke="#444" stroke-width="0.8"/>
<path d="M77.2,460.95 L79.35,464.95 L75.05,464.95Z" fill="#d8d8d8" stroke="#444" stroke-width="0.8"/>
<path d="M125.1,460.95 L127.25,464.95 L122.95,464.95Z" fill="#d8d8d8" stroke="#444" stroke-width="0.8"/>
<path d="M220.9,460.95 L223.05,464.95 L218.75,464.95Z" fill="#d8d8d8" stroke="#444" stroke-width="0.8"/>
<path d="M34.09,459.72 L36.44,464.31 L31.74,464.31Z" fill="#111"/>
<path d="M77.2,460.65 L79.55,465.25 L74.85,465.25Z" fill="#111"/>
<path d="M125.1,460.65 L127.45,465.25 L122.75,465.25Z" fill="#111"/>
<path d="M220.9,460.28 L223.25,464.88 L218.55,464.88Z" fill="#111"/>
<circle cx="34.09" cy="460.86" r="1.75" fill="#d8d8d8" stroke="#444" stroke-width="0.8"/>
<circle cx="77.2" cy="462.54" r="1.75" fill="#d8d8d8" stroke="#444" stroke-width="0.8"/>
<circle cx="125.1" cy="462.73" r="1.75" fill="#d8d8d8" stroke="#444" stroke-width="0.8"/>
<circle cx="220.9" cy="462.17" r="1.75" fill="#d8d8d8" stroke="#444" stroke-width="0.8"/>
<circle cx="34.09" cy="423.46" r="2.15" fill="#111"/>
<circle cx="77.2" cy="448.51" r="2.15" fill="#111"/>
<circle cx="125.1" cy="459.55" r="2.15" fill="#111"/>
<circle cx="220.9" cy="461.23" r="2.15" fill="#111"/>
<line x1="34.09" y1="329.77" x2="34.09" y2="342.11" stroke="#555" stroke-width="0.8"/>
<line x1="32.89" y1="329.77" x2="35.29" y2="329.77" stroke="#555" stroke-width="0.8"/>
<line x1="32.89" y1="342.11" x2="35.29" y2="342.11" stroke="#555" stroke-width="0.8"/>
<rect x="32.34" y="334.19" width="3.5" height="3.5" fill="#d8d8d8" stroke="#444" stroke-width="0.8"/>
<line x1="77.2" y1="379.32" x2="77.2" y2="386.8" stroke="#555" stroke-width="0.8"/>
<line x1="76" y1="379.32" x2="78.4" y2="379.32" stroke="#555" stroke-width="0.8"/>
<line x1="76" y1="386.8" x2="78.4" y2="386.8" stroke="#555" stroke-width="0.8"/>
<rect x="75.45" y="381.31" width="3.5" height="3.5" fill="#d8d8d8" stroke="#444" stroke-width="0.8"/>
<line x1="125.1" y1="399.89" x2="125.1" y2="448.51" stroke="#555" stroke-width="0.8"/>
<line x1="123.9" y1="399.89" x2="126.3" y2="399.89" stroke="#555" stroke-width="0.8"/>
<line x1="123.9" y1="448.51" x2="126.3" y2="448.51" stroke="#555" stroke-width="0.8"/>
<rect x="123.35" y="422.45" width="3.5" height="3.5" fill="#d8d8d8" stroke="#444" stroke-width="0.8"/>
<line x1="220.9" y1="457.49" x2="220.9" y2="459.36" stroke="#555" stroke-width="0.8"/>
<line x1="219.7" y1="457.49" x2="222.1" y2="457.49" stroke="#555" stroke-width="0.8"/>
<line x1="219.7" y1="459.36" x2="222.1" y2="459.36" stroke="#555" stroke-width="0.8"/>
<rect x="219.15" y="456.68" width="3.5" height="3.5" fill="#d8d8d8" stroke="#444" stroke-width="0.8"/>
<line x1="34.09" y1="266.19" x2="34.09" y2="284.89" stroke="#555" stroke-width="0.8"/>
<line x1="32.89" y1="266.19" x2="35.29" y2="266.19" stroke="#555" stroke-width="0.8"/>
<line x1="32.89" y1="284.89" x2="35.29" y2="284.89" stroke="#555" stroke-width="0.8"/>
<rect x="31.94" y="273.39" width="4.3" height="4.3" fill="#111"/>
<line x1="77.2" y1="300.22" x2="77.2" y2="303.96" stroke="#555" stroke-width="0.8"/>
<line x1="76" y1="300.22" x2="78.4" y2="300.22" stroke="#555" stroke-width="0.8"/>
<line x1="76" y1="303.96" x2="78.4" y2="303.96" stroke="#555" stroke-width="0.8"/>
<rect x="75.05" y="299.94" width="4.3" height="4.3" fill="#111"/>
<line x1="125.1" y1="339.31" x2="125.1" y2="343.05" stroke="#555" stroke-width="0.8"/>
<line x1="123.9" y1="339.31" x2="126.3" y2="339.31" stroke="#555" stroke-width="0.8"/>
<line x1="123.9" y1="343.05" x2="126.3" y2="343.05" stroke="#555" stroke-width="0.8"/>
<rect x="122.95" y="339.03" width="4.3" height="4.3" fill="#111"/>
<line x1="220.9" y1="442.34" x2="220.9" y2="445.34" stroke="#555" stroke-width="0.8"/>
<line x1="219.7" y1="442.34" x2="222.1" y2="442.34" stroke="#555" stroke-width="0.8"/>
<line x1="219.7" y1="445.34" x2="222.1" y2="445.34" stroke="#555" stroke-width="0.8"/>
<rect x="218.75" y="441.69" width="4.3" height="4.3" fill="#111"/>
<text x="263" y="265.8" font-size="22" font-weight="bold" fill="#000" stroke="#000" stroke-width="0.15">D</text>
<text x="306.2" y="267.6" font-size="13" fill="#111" stroke="#111" stroke-width="0.15">H929</text>
<line x1="293.5" y1="463.6" x2="293.5" y2="257.4" stroke="#7a7a7a" stroke-width="1"/>
<line x1="291" y1="463.1" x2="293.5" y2="463.1" stroke="#7a7a7a" stroke-width="0.9"/>
<line x1="292.2" y1="444.4" x2="293.5" y2="444.4" stroke="#7a7a7a" stroke-width="0.9"/>
<line x1="291" y1="425.7" x2="293.5" y2="425.7" stroke="#7a7a7a" stroke-width="0.9"/>
<line x1="292.2" y1="407" x2="293.5" y2="407" stroke="#7a7a7a" stroke-width="0.9"/>
<line x1="291" y1="388.3" x2="293.5" y2="388.3" stroke="#7a7a7a" stroke-width="0.9"/>
<line x1="292.2" y1="369.6" x2="293.5" y2="369.6" stroke="#7a7a7a" stroke-width="0.9"/>
<line x1="291" y1="350.9" x2="293.5" y2="350.9" stroke="#7a7a7a" stroke-width="0.9"/>
<line x1="292.2" y1="332.2" x2="293.5" y2="332.2" stroke="#7a7a7a" stroke-width="0.9"/>
<line x1="291" y1="313.5" x2="293.5" y2="313.5" stroke="#7a7a7a" stroke-width="0.9"/>
<line x1="292.2" y1="294.8" x2="293.5" y2="294.8" stroke="#7a7a7a" stroke-width="0.9"/>
<line x1="291" y1="276.1" x2="293.5" y2="276.1" stroke="#7a7a7a" stroke-width="0.9"/>
<line x1="292.2" y1="257.4" x2="293.5" y2="257.4" stroke="#7a7a7a" stroke-width="0.9"/>
<text x="288.2" y="466" font-size="8.1" text-anchor="end" fill="#222" stroke="#222" stroke-width="0.15">0</text>
<text x="288.2" y="428.6" font-size="8.1" text-anchor="end" fill="#222" stroke="#222" stroke-width="0.15">0.2</text>
<text x="288.2" y="391.2" font-size="8.1" text-anchor="end" fill="#222" stroke="#222" stroke-width="0.15">0.4</text>
<text x="288.2" y="353.8" font-size="8.1" text-anchor="end" fill="#222" stroke="#222" stroke-width="0.15">0.6</text>
<text x="288.2" y="316.4" font-size="8.1" text-anchor="end" fill="#222" stroke="#222" stroke-width="0.15">0.8</text>
<text x="288.2" y="279" font-size="8.1" text-anchor="end" fill="#222" stroke="#222" stroke-width="0.15">1</text>
<line x1="293" y1="463.1" x2="486.4" y2="463.1" stroke="#7a7a7a" stroke-width="1"/>
<line x1="293.5" y1="463.1" x2="293.5" y2="465.3" stroke="#7a7a7a" stroke-width="0.9"/>
<line x1="317.55" y1="463.1" x2="317.55" y2="464.3" stroke="#7a7a7a" stroke-width="0.9"/>
<line x1="341.6" y1="463.1" x2="341.6" y2="465.3" stroke="#7a7a7a" stroke-width="0.9"/>
<line x1="365.65" y1="463.1" x2="365.65" y2="464.3" stroke="#7a7a7a" stroke-width="0.9"/>
<line x1="389.7" y1="463.1" x2="389.7" y2="465.3" stroke="#7a7a7a" stroke-width="0.9"/>
<line x1="413.75" y1="463.1" x2="413.75" y2="464.3" stroke="#7a7a7a" stroke-width="0.9"/>
<line x1="437.8" y1="463.1" x2="437.8" y2="465.3" stroke="#7a7a7a" stroke-width="0.9"/>
<line x1="461.85" y1="463.1" x2="461.85" y2="464.3" stroke="#7a7a7a" stroke-width="0.9"/>
<line x1="485.9" y1="463.1" x2="485.9" y2="465.3" stroke="#7a7a7a" stroke-width="0.9"/>
<text x="293.5" y="477.3" font-size="8.8" text-anchor="middle" fill="#222" stroke="#222" stroke-width="0.15">0</text>
<text x="341.6" y="477.3" font-size="8.8" text-anchor="middle" fill="#222" stroke="#222" stroke-width="0.15">1</text>
<text x="389.7" y="477.3" font-size="8.8" text-anchor="middle" fill="#222" stroke="#222" stroke-width="0.15">2</text>
<text x="437.8" y="477.3" font-size="8.8" text-anchor="middle" fill="#222" stroke="#222" stroke-width="0.15">3</text>
<text x="485.9" y="477.3" font-size="8.8" text-anchor="middle" fill="#222" stroke="#222" stroke-width="0.15">4</text>
<text x="390.1" y="490.1" font-size="9.7" text-anchor="middle" fill="#1a1a1a" stroke="#1a1a1a" stroke-width="0.15">bortezomib (nM)</text>
<text x="0" y="0" font-size="9.8" text-anchor="middle" fill="#1a1a1a" stroke="#1a1a1a" stroke-width="0.15" transform="translate(272.9,360.55) rotate(-90)">relative viability</text>
<text x="470" y="260.7" font-size="7.6" text-anchor="middle" fill="#222" stroke="#222" stroke-width="0.15">pristimerin</text>
<text x="470" y="270.7" font-size="7.6" text-anchor="middle" fill="#222" stroke="#222" stroke-width="0.15">(nM)</text>
<line x1="456.5" y1="280.3" x2="467.5" y2="280.3" stroke="#333" stroke-width="0.9"/>
<rect x="460.05" y="278.35" width="3.9" height="3.9" fill="#111"/>
<text x="470.3" y="283.3" font-size="8.2" fill="#1a1a1a" stroke="#1a1a1a" stroke-width="0.15">0</text>
<line x1="456.5" y1="292.1" x2="467.5" y2="292.1" stroke="#333" stroke-width="0.9"/>
<rect x="460.45" y="290.55" width="3.1" height="3.1" fill="#d8d8d8" stroke="#444" stroke-width="0.8"/>
<text x="470.3" y="295.1" font-size="8.2" fill="#1a1a1a" stroke="#1a1a1a" stroke-width="0.15">200</text>
<line x1="456.5" y1="303.9" x2="467.5" y2="303.9" stroke="#333" stroke-width="0.9"/>
<circle cx="462" cy="303.9" r="1.95" fill="#111"/>
<text x="470.3" y="306.9" font-size="8.2" fill="#1a1a1a" stroke="#1a1a1a" stroke-width="0.15">400</text>
<line x1="456.5" y1="315.7" x2="467.5" y2="315.7" stroke="#333" stroke-width="0.9"/>
<circle cx="462" cy="315.7" r="1.55" fill="#d8d8d8" stroke="#444" stroke-width="0.8"/>
<text x="470.3" y="318.7" font-size="8.2" fill="#1a1a1a" stroke="#1a1a1a" stroke-width="0.15">600</text>
<line x1="456.5" y1="327.5" x2="467.5" y2="327.5" stroke="#333" stroke-width="0.9"/>
<path d="M462,325.25 L464.15,329.45 L459.85,329.45Z" fill="#111"/>
<text x="470.3" y="330.5" font-size="8.2" fill="#1a1a1a" stroke="#1a1a1a" stroke-width="0.15">800</text>
<line x1="456.5" y1="339.3" x2="467.5" y2="339.3" stroke="#333" stroke-width="0.9"/>
<path d="M462,337.35 L463.95,340.95 L460.05,340.95Z" fill="#d8d8d8" stroke="#444" stroke-width="0.8"/>
<text x="470.3" y="342.3" font-size="8.2" fill="#1a1a1a" stroke="#1a1a1a" stroke-width="0.15">1</text>
<line x1="363.25" y1="459.36" x2="363.25" y2="460.1" stroke="#b0b0b0" stroke-width="0.9"/>
<line x1="368.06" y1="459.73" x2="368.06" y2="460.1" stroke="#b0b0b0" stroke-width="0.9"/>
<line x1="376.71" y1="425.7" x2="376.71" y2="460.1" stroke="#b0b0b0" stroke-width="0.9"/>
<line x1="425.29" y1="371.84" x2="425.29" y2="460.1" stroke="#b0b0b0" stroke-width="0.9"/>
<path d="M298.31,459.36 C312.74,459.86 327.17,460.54 341.6,460.86 C357.63,461.21 373.67,461.09 389.7,461.23 C421.77,461.5 453.83,461.85 485.9,462.17" fill="none" stroke="#3a3a3a" stroke-width="1.2"/>
<path d="M298.31,457.68 C312.74,458.24 327.17,458.93 341.6,459.36 C357.63,459.84 373.67,460.04 389.7,460.3 C421.77,460.81 453.83,460.92 485.9,461.23" fill="none" stroke="#3a3a3a" stroke-width="1.2"/>
<path d="M298.31,455.81 C312.74,455.43 327.17,453.74 341.6,454.69 C349.62,455.21 357.63,456.74 365.65,457.49 C373.67,458.24 381.68,458.7 389.7,459.17 C421.77,461.08 453.83,460.3 485.9,460.86" fill="none" stroke="#3a3a3a" stroke-width="1.2"/>
<path d="M298.31,443.28 C305.52,442.16 312.74,440.35 319.95,439.91 C327.17,439.48 334.38,438.64 341.6,440.66 C344.81,441.56 348.01,442.97 351.22,444.4 C354.11,445.69 356.99,447.38 359.88,448.7 C364.85,450.97 369.82,453.06 374.79,454.5 C379.76,455.93 384.73,456.52 389.7,457.3 C405.73,459.84 421.77,459.64 437.8,460.3 C453.83,460.95 469.87,460.92 485.9,461.23" fill="none" stroke="#3a3a3a" stroke-width="1.2"/>
<path d="M298.31,384.56 C304.72,384.56 311.14,383.92 317.55,384.56 C325.57,385.36 333.58,384.75 341.6,389.98 C349.62,395.22 357.63,408.42 365.65,415.98 C369.34,419.45 373.03,423.19 376.71,425.7 C381.04,428.64 385.37,429.55 389.7,431.5 C393.71,433.3 397.72,435.08 401.73,436.92 C405.73,438.76 409.74,440.75 413.75,442.53 C417.76,444.31 421.77,445.96 425.77,447.58 C429.78,449.2 433.79,450.91 437.8,452.25 C441.81,453.59 445.82,454.69 449.83,455.62 C453.83,456.56 457.84,457.25 461.85,457.86 C469.87,459.09 477.88,459.24 485.9,459.92" fill="none" stroke="#3a3a3a" stroke-width="1.2"/>
<path d="M298.31,275.73 C304.72,278.34 311.14,281.33 317.55,283.58 C325.57,286.4 333.58,289.73 341.6,290.31 C345.61,290.6 349.62,289.91 353.62,289.94 C357.63,289.97 361.64,289.94 365.65,290.5 C369.66,291.06 373.67,291.34 377.68,293.3 C381.68,295.27 385.69,297.49 389.7,302.28 C392.91,306.11 396.11,311.92 399.32,317.24 C403.17,323.62 407.02,330.07 410.86,337.81 C415.83,347.81 420.8,361.84 425.77,372.22 C430.75,382.6 435.72,391.58 440.69,400.08 C447.74,412.14 454.8,423.18 461.85,431.5 C469.87,440.95 477.88,444.84 485.9,451.51" fill="none" stroke="#3a3a3a" stroke-width="1.2"/>
<path d="M361.75,457.5 L364.75,457.5 L363.25,462.8Z" fill="#1a1a1a"/>
<path d="M366.56,457.5 L369.56,457.5 L368.06,462.8Z" fill="#1a1a1a"/>
<path d="M375.21,457.5 L378.21,457.5 L376.71,462.8Z" fill="#1a1a1a"/>
<path d="M423.79,457.5 L426.79,457.5 L425.29,462.8Z" fill="#1a1a1a"/>
<path d="M298.31,457.21 L300.46,461.21 L296.16,461.21Z" fill="#d8d8d8" stroke="#444" stroke-width="0.8"/>
<path d="M341.6,458.71 L343.75,462.71 L339.45,462.71Z" fill="#d8d8d8" stroke="#444" stroke-width="0.8"/>
<path d="M389.7,459.08 L391.85,463.08 L387.55,463.08Z" fill="#d8d8d8" stroke="#444" stroke-width="0.8"/>
<path d="M485.9,460.02 L488.05,464.01 L483.75,464.01Z" fill="#d8d8d8" stroke="#444" stroke-width="0.8"/>
<path d="M298.31,455.23 L300.66,459.83 L295.96,459.83Z" fill="#111"/>
<path d="M341.6,456.91 L343.95,461.51 L339.25,461.51Z" fill="#111"/>
<path d="M389.7,457.85 L392.05,462.44 L387.35,462.44Z" fill="#111"/>
<path d="M485.9,458.78 L488.25,463.38 L483.55,463.38Z" fill="#111"/>
<line x1="298.31" y1="454.87" x2="298.31" y2="456.74" stroke="#555" stroke-width="0.8"/>
<line x1="297.11" y1="454.87" x2="299.51" y2="454.87" stroke="#555" stroke-width="0.8"/>
<line x1="297.11" y1="456.74" x2="299.51" y2="456.74" stroke="#555" stroke-width="0.8"/>
<circle cx="298.31" cy="455.81" r="1.75" fill="#d8d8d8" stroke="#444" stroke-width="0.8"/>
<line x1="341.6" y1="453.75" x2="341.6" y2="455.62" stroke="#555" stroke-width="0.8"/>
<line x1="340.4" y1="453.75" x2="342.8" y2="453.75" stroke="#555" stroke-width="0.8"/>
<line x1="340.4" y1="455.62" x2="342.8" y2="455.62" stroke="#555" stroke-width="0.8"/>
<circle cx="341.6" cy="454.69" r="1.75" fill="#d8d8d8" stroke="#444" stroke-width="0.8"/>
<circle cx="389.7" cy="459.17" r="1.75" fill="#d8d8d8" stroke="#444" stroke-width="0.8"/>
<circle cx="485.9" cy="460.86" r="1.75" fill="#d8d8d8" stroke="#444" stroke-width="0.8"/>
<line x1="298.31" y1="440.29" x2="298.31" y2="445.9" stroke="#555" stroke-width="0.8"/>
<line x1="297.11" y1="440.29" x2="299.51" y2="440.29" stroke="#555" stroke-width="0.8"/>
<line x1="297.11" y1="445.9" x2="299.51" y2="445.9" stroke="#555" stroke-width="0.8"/>
<circle cx="298.31" cy="443.09" r="2.15" fill="#111"/>
<line x1="341.6" y1="437.67" x2="341.6" y2="443.28" stroke="#555" stroke-width="0.8"/>
<line x1="340.4" y1="437.67" x2="342.8" y2="437.67" stroke="#555" stroke-width="0.8"/>
<line x1="340.4" y1="443.28" x2="342.8" y2="443.28" stroke="#555" stroke-width="0.8"/>
<circle cx="341.6" cy="440.47" r="2.15" fill="#111"/>
<line x1="389.7" y1="456.37" x2="389.7" y2="458.24" stroke="#555" stroke-width="0.8"/>
<line x1="388.5" y1="456.37" x2="390.9" y2="456.37" stroke="#555" stroke-width="0.8"/>
<line x1="388.5" y1="458.24" x2="390.9" y2="458.24" stroke="#555" stroke-width="0.8"/>
<circle cx="389.7" cy="457.3" r="2.15" fill="#111"/>
<circle cx="485.9" cy="461.23" r="2.15" fill="#111"/>
<line x1="298.31" y1="381.75" x2="298.31" y2="387.37" stroke="#555" stroke-width="0.8"/>
<line x1="297.11" y1="381.75" x2="299.51" y2="381.75" stroke="#555" stroke-width="0.8"/>
<line x1="297.11" y1="387.37" x2="299.51" y2="387.37" stroke="#555" stroke-width="0.8"/>
<rect x="296.56" y="382.81" width="3.5" height="3.5" fill="#d8d8d8" stroke="#444" stroke-width="0.8"/>
<line x1="341.6" y1="386.24" x2="341.6" y2="393.72" stroke="#555" stroke-width="0.8"/>
<line x1="340.4" y1="386.24" x2="342.8" y2="386.24" stroke="#555" stroke-width="0.8"/>
<line x1="340.4" y1="393.72" x2="342.8" y2="393.72" stroke="#555" stroke-width="0.8"/>
<rect x="339.85" y="388.23" width="3.5" height="3.5" fill="#d8d8d8" stroke="#444" stroke-width="0.8"/>
<line x1="389.7" y1="430" x2="389.7" y2="432.99" stroke="#555" stroke-width="0.8"/>
<line x1="388.5" y1="430" x2="390.9" y2="430" stroke="#555" stroke-width="0.8"/>
<line x1="388.5" y1="432.99" x2="390.9" y2="432.99" stroke="#555" stroke-width="0.8"/>
<rect x="387.95" y="429.75" width="3.5" height="3.5" fill="#d8d8d8" stroke="#444" stroke-width="0.8"/>
<line x1="485.9" y1="458.99" x2="485.9" y2="460.86" stroke="#555" stroke-width="0.8"/>
<line x1="484.7" y1="458.99" x2="487.1" y2="458.99" stroke="#555" stroke-width="0.8"/>
<line x1="484.7" y1="460.86" x2="487.1" y2="460.86" stroke="#555" stroke-width="0.8"/>
<rect x="484.15" y="458.17" width="3.5" height="3.5" fill="#d8d8d8" stroke="#444" stroke-width="0.8"/>
<line x1="298.31" y1="269.18" x2="298.31" y2="282.27" stroke="#555" stroke-width="0.8"/>
<line x1="297.11" y1="269.18" x2="299.51" y2="269.18" stroke="#555" stroke-width="0.8"/>
<line x1="297.11" y1="282.27" x2="299.51" y2="282.27" stroke="#555" stroke-width="0.8"/>
<rect x="296.16" y="273.58" width="4.3" height="4.3" fill="#111"/>
<line x1="341.6" y1="289.38" x2="341.6" y2="291.25" stroke="#555" stroke-width="0.8"/>
<line x1="340.4" y1="289.38" x2="342.8" y2="289.38" stroke="#555" stroke-width="0.8"/>
<line x1="340.4" y1="291.25" x2="342.8" y2="291.25" stroke="#555" stroke-width="0.8"/>
<rect x="339.45" y="288.16" width="4.3" height="4.3" fill="#111"/>
<line x1="389.7" y1="301.35" x2="389.7" y2="303.22" stroke="#555" stroke-width="0.8"/>
<line x1="388.5" y1="301.35" x2="390.9" y2="301.35" stroke="#555" stroke-width="0.8"/>
<line x1="388.5" y1="303.22" x2="390.9" y2="303.22" stroke="#555" stroke-width="0.8"/>
<rect x="387.55" y="300.13" width="4.3" height="4.3" fill="#111"/>
<line x1="485.9" y1="450.57" x2="485.9" y2="452.44" stroke="#555" stroke-width="0.8"/>
<line x1="484.7" y1="450.57" x2="487.1" y2="450.57" stroke="#555" stroke-width="0.8"/>
<line x1="484.7" y1="452.44" x2="487.1" y2="452.44" stroke="#555" stroke-width="0.8"/>
<rect x="483.75" y="449.36" width="4.3" height="4.3" fill="#111"/>
<text x="1" y="517.8" font-size="22" font-weight="bold" fill="#000" stroke="#000" stroke-width="0.15">E</text>
<text x="37.7" y="521.9" font-size="13" fill="#111" stroke="#111" stroke-width="0.15">OCI-MY5</text>
<line x1="31" y1="718.5" x2="31" y2="511.64" stroke="#7a7a7a" stroke-width="1"/>
<line x1="28.5" y1="718" x2="31" y2="718" stroke="#7a7a7a" stroke-width="0.9"/>
<line x1="29.7" y1="699.24" x2="31" y2="699.24" stroke="#7a7a7a" stroke-width="0.9"/>
<line x1="28.5" y1="680.48" x2="31" y2="680.48" stroke="#7a7a7a" stroke-width="0.9"/>
<line x1="29.7" y1="661.72" x2="31" y2="661.72" stroke="#7a7a7a" stroke-width="0.9"/>
<line x1="28.5" y1="642.96" x2="31" y2="642.96" stroke="#7a7a7a" stroke-width="0.9"/>
<line x1="29.7" y1="624.2" x2="31" y2="624.2" stroke="#7a7a7a" stroke-width="0.9"/>
<line x1="28.5" y1="605.44" x2="31" y2="605.44" stroke="#7a7a7a" stroke-width="0.9"/>
<line x1="29.7" y1="586.68" x2="31" y2="586.68" stroke="#7a7a7a" stroke-width="0.9"/>
<line x1="28.5" y1="567.92" x2="31" y2="567.92" stroke="#7a7a7a" stroke-width="0.9"/>
<line x1="29.7" y1="549.16" x2="31" y2="549.16" stroke="#7a7a7a" stroke-width="0.9"/>
<line x1="28.5" y1="530.4" x2="31" y2="530.4" stroke="#7a7a7a" stroke-width="0.9"/>
<line x1="29.7" y1="511.64" x2="31" y2="511.64" stroke="#7a7a7a" stroke-width="0.9"/>
<text x="25.7" y="720.9" font-size="8.1" text-anchor="end" fill="#222" stroke="#222" stroke-width="0.15">0</text>
<text x="25.7" y="683.38" font-size="8.1" text-anchor="end" fill="#222" stroke="#222" stroke-width="0.15">0.2</text>
<text x="25.7" y="645.86" font-size="8.1" text-anchor="end" fill="#222" stroke="#222" stroke-width="0.15">0.4</text>
<text x="25.7" y="608.34" font-size="8.1" text-anchor="end" fill="#222" stroke="#222" stroke-width="0.15">0.6</text>
<text x="25.7" y="570.82" font-size="8.1" text-anchor="end" fill="#222" stroke="#222" stroke-width="0.15">0.8</text>
<text x="25.7" y="533.3" font-size="8.1" text-anchor="end" fill="#222" stroke="#222" stroke-width="0.15">1</text>
<line x1="30.5" y1="718" x2="223.1" y2="718" stroke="#7a7a7a" stroke-width="1"/>
<line x1="31" y1="718" x2="31" y2="720.2" stroke="#7a7a7a" stroke-width="0.9"/>
<line x1="54.95" y1="718" x2="54.95" y2="719.2" stroke="#7a7a7a" stroke-width="0.9"/>
<line x1="78.9" y1="718" x2="78.9" y2="720.2" stroke="#7a7a7a" stroke-width="0.9"/>
<line x1="102.85" y1="718" x2="102.85" y2="719.2" stroke="#7a7a7a" stroke-width="0.9"/>
<line x1="126.8" y1="718" x2="126.8" y2="720.2" stroke="#7a7a7a" stroke-width="0.9"/>
<line x1="150.75" y1="718" x2="150.75" y2="719.2" stroke="#7a7a7a" stroke-width="0.9"/>
<line x1="174.7" y1="718" x2="174.7" y2="720.2" stroke="#7a7a7a" stroke-width="0.9"/>
<line x1="198.65" y1="718" x2="198.65" y2="719.2" stroke="#7a7a7a" stroke-width="0.9"/>
<line x1="222.6" y1="718" x2="222.6" y2="720.2" stroke="#7a7a7a" stroke-width="0.9"/>
<text x="31" y="732.2" font-size="8.8" text-anchor="middle" fill="#222" stroke="#222" stroke-width="0.15">0</text>
<text x="78.9" y="732.2" font-size="8.8" text-anchor="middle" fill="#222" stroke="#222" stroke-width="0.15">1</text>
<text x="126.8" y="732.2" font-size="8.8" text-anchor="middle" fill="#222" stroke="#222" stroke-width="0.15">2</text>
<text x="174.7" y="732.2" font-size="8.8" text-anchor="middle" fill="#222" stroke="#222" stroke-width="0.15">3</text>
<text x="222.6" y="732.2" font-size="8.8" text-anchor="middle" fill="#222" stroke="#222" stroke-width="0.15">4</text>
<text x="127.2" y="745" font-size="9.7" text-anchor="middle" fill="#1a1a1a" stroke="#1a1a1a" stroke-width="0.15">bortezomib (nM)</text>
<text x="0" y="0" font-size="9.8" text-anchor="middle" fill="#1a1a1a" stroke="#1a1a1a" stroke-width="0.15" transform="translate(10.4,615.12) rotate(-90)">relative viability</text>
<text x="207.5" y="515" font-size="7.6" text-anchor="middle" fill="#222" stroke="#222" stroke-width="0.15">pristimerin</text>
<text x="207.5" y="525" font-size="7.6" text-anchor="middle" fill="#222" stroke="#222" stroke-width="0.15">(nM)</text>
<line x1="194" y1="534.6" x2="205" y2="534.6" stroke="#333" stroke-width="0.9"/>
<rect x="197.55" y="532.65" width="3.9" height="3.9" fill="#111"/>
<text x="207.8" y="537.6" font-size="8.2" fill="#1a1a1a" stroke="#1a1a1a" stroke-width="0.15">0</text>
<line x1="194" y1="546.4" x2="205" y2="546.4" stroke="#333" stroke-width="0.9"/>
<rect x="197.95" y="544.85" width="3.1" height="3.1" fill="#d8d8d8" stroke="#444" stroke-width="0.8"/>
<text x="207.8" y="549.4" font-size="8.2" fill="#1a1a1a" stroke="#1a1a1a" stroke-width="0.15">200</text>
<line x1="194" y1="558.2" x2="205" y2="558.2" stroke="#333" stroke-width="0.9"/>
<circle cx="199.5" cy="558.2" r="1.95" fill="#111"/>
<text x="207.8" y="561.2" font-size="8.2" fill="#1a1a1a" stroke="#1a1a1a" stroke-width="0.15">400</text>
<line x1="194" y1="570" x2="205" y2="570" stroke="#333" stroke-width="0.9"/>
<circle cx="199.5" cy="570" r="1.55" fill="#d8d8d8" stroke="#444" stroke-width="0.8"/>
<text x="207.8" y="573" font-size="8.2" fill="#1a1a1a" stroke="#1a1a1a" stroke-width="0.15">600</text>
<line x1="194" y1="581.8" x2="205" y2="581.8" stroke="#333" stroke-width="0.9"/>
<path d="M199.5,579.55 L201.65,583.75 L197.35,583.75Z" fill="#111"/>
<text x="207.8" y="584.8" font-size="8.2" fill="#1a1a1a" stroke="#1a1a1a" stroke-width="0.15">800</text>
<line x1="194" y1="593.6" x2="205" y2="593.6" stroke="#333" stroke-width="0.9"/>
<path d="M199.5,591.65 L201.45,595.25 L197.55,595.25Z" fill="#d8d8d8" stroke="#444" stroke-width="0.8"/>
<text x="207.8" y="596.6" font-size="8.2" fill="#1a1a1a" stroke="#1a1a1a" stroke-width="0.15">1</text>
<line x1="55.43" y1="716.12" x2="55.43" y2="715" stroke="#b0b0b0" stroke-width="0.9"/>
<line x1="86.08" y1="714.25" x2="86.08" y2="715" stroke="#b0b0b0" stroke-width="0.9"/>
<line x1="89.82" y1="680.48" x2="89.82" y2="715" stroke="#b0b0b0" stroke-width="0.9"/>
<line x1="92.31" y1="704.12" x2="92.31" y2="715" stroke="#b0b0b0" stroke-width="0.9"/>
<line x1="106.68" y1="656.47" x2="106.68" y2="715" stroke="#b0b0b0" stroke-width="0.9"/>
<line x1="151.23" y1="627.76" x2="151.23" y2="715" stroke="#b0b0b0" stroke-width="0.9"/>
<path d="M35.79,714.25 C50.16,715.5 64.53,717.34 78.9,718 C94.87,718.73 110.83,718 126.8,718 C158.73,718 190.67,718 222.6,718" fill="none" stroke="#3a3a3a" stroke-width="1.2"/>
<path d="M35.79,707.68 C50.16,709.06 64.53,710.48 78.9,711.81 C89.28,712.77 99.66,713.31 110.03,714.62 C115.62,715.33 121.21,716.37 126.8,717.06 C158.73,721.02 190.67,717.06 222.6,717.06" fill="none" stroke="#3a3a3a" stroke-width="1.2"/>
<path d="M35.79,691.17 C42.18,692.11 48.56,692.89 54.95,693.99 C62.93,695.36 70.92,696.27 78.9,698.86 C86.88,701.46 94.87,706.68 102.85,709.56 C110.83,712.43 118.82,714.61 126.8,716.12 C142.77,719.15 158.73,716.91 174.7,717.06 C190.67,717.22 206.63,717.06 222.6,717.06" fill="none" stroke="#3a3a3a" stroke-width="1.2"/>
<path d="M35.79,639.96 C42.98,644.4 50.16,648.59 57.34,653.28 C64.53,657.97 71.72,661.36 78.9,668.1 C82.54,671.51 86.18,675.73 89.82,679.73 C94.16,684.5 98.51,690.09 102.85,694.55 C105.24,697.01 107.64,699.49 110.03,701.49 C115.62,706.17 121.21,708.11 126.8,710.5 C142.77,717.3 158.73,714.81 174.7,715.75 C190.67,716.69 206.63,716 222.6,716.12" fill="none" stroke="#3a3a3a" stroke-width="1.2"/>
<path d="M35.79,575.8 C42.18,578.99 48.56,581.68 54.95,585.37 C62.93,589.97 70.92,590.5 78.9,601.5 C82.6,606.61 86.31,613.14 90.01,620.45 C92.7,625.74 95.38,632.1 98.06,637.89 C100.93,644.11 103.81,651.06 106.68,656.47 C113.39,669.07 120.09,674.9 126.8,681.42 C134.94,689.33 143.09,692.98 151.23,697.18 C157.78,700.55 164.32,703.01 170.87,705.24 C179.81,708.29 188.75,709.95 197.69,711.81 C205.99,713.53 214.3,714.69 222.6,716.12" fill="none" stroke="#3a3a3a" stroke-width="1.2"/>
<path d="M35.79,530.4 C40.58,530.46 45.37,530.37 50.16,530.59 C54.95,530.81 59.74,530.65 64.53,531.71 C69.32,532.78 74.11,534.46 78.9,536.97 C86.88,541.13 94.87,548.16 102.85,555.73 C110.83,563.29 118.82,569.27 126.8,582.37 C130.63,588.65 134.46,597.07 138.3,604.13 C142.61,612.07 146.92,619.87 151.23,627.2 C157.78,638.34 164.32,648.53 170.87,658.16 C175.34,664.73 179.81,671.1 184.28,676.92 C188.75,682.73 193.22,688.11 197.69,693.05 C202.16,697.99 206.63,702.87 211.1,706.56 C214.94,709.72 218.77,711.68 222.6,714.25" fill="none" stroke="#3a3a3a" stroke-width="1.2"/>
<path d="M53.93,712.4 L56.93,712.4 L55.43,717.7Z" fill="#1a1a1a"/>
<path d="M84.58,712.4 L87.58,712.4 L86.08,717.7Z" fill="#1a1a1a"/>
<path d="M88.32,712.4 L91.32,712.4 L89.82,717.7Z" fill="#1a1a1a"/>
<path d="M90.81,712.4 L93.81,712.4 L92.31,717.7Z" fill="#1a1a1a"/>
<path d="M105.18,712.4 L108.18,712.4 L106.68,717.7Z" fill="#1a1a1a"/>
<path d="M149.73,712.4 L152.73,712.4 L151.23,717.7Z" fill="#1a1a1a"/>
<path d="M35.79,712.1 L37.94,716.1 L33.64,716.1Z" fill="#d8d8d8" stroke="#444" stroke-width="0.8"/>
<path d="M78.9,715.85 L81.05,719.85 L76.75,719.85Z" fill="#d8d8d8" stroke="#444" stroke-width="0.8"/>
<path d="M126.8,715.85 L128.95,719.85 L124.65,719.85Z" fill="#d8d8d8" stroke="#444" stroke-width="0.8"/>
<path d="M222.6,715.85 L224.75,719.85 L220.45,719.85Z" fill="#d8d8d8" stroke="#444" stroke-width="0.8"/>
<path d="M35.79,705.23 L38.14,709.83 L33.44,709.83Z" fill="#111"/>
<line x1="78.9" y1="708.81" x2="78.9" y2="714.81" stroke="#555" stroke-width="0.8"/>
<line x1="77.7" y1="708.81" x2="80.1" y2="708.81" stroke="#555" stroke-width="0.8"/>
<line x1="77.7" y1="714.81" x2="80.1" y2="714.81" stroke="#555" stroke-width="0.8"/>
<path d="M78.9,709.36 L81.25,713.96 L76.55,713.96Z" fill="#111"/>
<path d="M126.8,714.61 L129.15,719.21 L124.45,719.21Z" fill="#111"/>
<path d="M222.6,714.61 L224.95,719.21 L220.25,719.21Z" fill="#111"/>
<line x1="35.79" y1="688.36" x2="35.79" y2="693.99" stroke="#555" stroke-width="0.8"/>
<line x1="34.59" y1="688.36" x2="36.99" y2="688.36" stroke="#555" stroke-width="0.8"/>
<line x1="34.59" y1="693.99" x2="36.99" y2="693.99" stroke="#555" stroke-width="0.8"/>
<circle cx="35.79" cy="691.17" r="1.75" fill="#d8d8d8" stroke="#444" stroke-width="0.8"/>
<line x1="78.9" y1="696.99" x2="78.9" y2="700.74" stroke="#555" stroke-width="0.8"/>
<line x1="77.7" y1="696.99" x2="80.1" y2="696.99" stroke="#555" stroke-width="0.8"/>
<line x1="77.7" y1="700.74" x2="80.1" y2="700.74" stroke="#555" stroke-width="0.8"/>
<circle cx="78.9" cy="698.86" r="1.75" fill="#d8d8d8" stroke="#444" stroke-width="0.8"/>
<circle cx="126.8" cy="716.12" r="1.75" fill="#d8d8d8" stroke="#444" stroke-width="0.8"/>
<circle cx="222.6" cy="717.06" r="1.75" fill="#d8d8d8" stroke="#444" stroke-width="0.8"/>
<line x1="35.79" y1="639.02" x2="35.79" y2="640.9" stroke="#555" stroke-width="0.8"/>
<line x1="34.59" y1="639.02" x2="36.99" y2="639.02" stroke="#555" stroke-width="0.8"/>
<line x1="34.59" y1="640.9" x2="36.99" y2="640.9" stroke="#555" stroke-width="0.8"/>
<circle cx="35.79" cy="639.96" r="2.15" fill="#111"/>
<line x1="78.9" y1="656.84" x2="78.9" y2="679.35" stroke="#555" stroke-width="0.8"/>
<line x1="77.7" y1="656.84" x2="80.1" y2="656.84" stroke="#555" stroke-width="0.8"/>
<line x1="77.7" y1="679.35" x2="80.1" y2="679.35" stroke="#555" stroke-width="0.8"/>
<circle cx="78.9" cy="668.1" r="2.15" fill="#111"/>
<line x1="126.8" y1="709.56" x2="126.8" y2="711.43" stroke="#555" stroke-width="0.8"/>
<line x1="125.6" y1="709.56" x2="128" y2="709.56" stroke="#555" stroke-width="0.8"/>
<line x1="125.6" y1="711.43" x2="128" y2="711.43" stroke="#555" stroke-width="0.8"/>
<circle cx="126.8" cy="710.5" r="2.15" fill="#111"/>
<circle cx="222.6" cy="716.12" r="2.15" fill="#111"/>
<line x1="35.79" y1="572.99" x2="35.79" y2="578.61" stroke="#555" stroke-width="0.8"/>
<line x1="34.59" y1="572.99" x2="36.99" y2="572.99" stroke="#555" stroke-width="0.8"/>
<line x1="34.59" y1="578.61" x2="36.99" y2="578.61" stroke="#555" stroke-width="0.8"/>
<rect x="34.04" y="574.05" width="3.5" height="3.5" fill="#d8d8d8" stroke="#444" stroke-width="0.8"/>
<line x1="78.9" y1="596.81" x2="78.9" y2="606.19" stroke="#555" stroke-width="0.8"/>
<line x1="77.7" y1="596.81" x2="80.1" y2="596.81" stroke="#555" stroke-width="0.8"/>
<line x1="77.7" y1="606.19" x2="80.1" y2="606.19" stroke="#555" stroke-width="0.8"/>
<rect x="77.15" y="599.75" width="3.5" height="3.5" fill="#d8d8d8" stroke="#444" stroke-width="0.8"/>
<line x1="126.8" y1="680.48" x2="126.8" y2="682.36" stroke="#555" stroke-width="0.8"/>
<line x1="125.6" y1="680.48" x2="128" y2="680.48" stroke="#555" stroke-width="0.8"/>
<line x1="125.6" y1="682.36" x2="128" y2="682.36" stroke="#555" stroke-width="0.8"/>
<rect x="125.05" y="679.67" width="3.5" height="3.5" fill="#d8d8d8" stroke="#444" stroke-width="0.8"/>
<rect x="220.85" y="714.37" width="3.5" height="3.5" fill="#d8d8d8" stroke="#444" stroke-width="0.8"/>
<line x1="35.79" y1="529.46" x2="35.79" y2="531.34" stroke="#555" stroke-width="0.8"/>
<line x1="34.59" y1="529.46" x2="36.99" y2="529.46" stroke="#555" stroke-width="0.8"/>
<line x1="34.59" y1="531.34" x2="36.99" y2="531.34" stroke="#555" stroke-width="0.8"/>
<rect x="33.64" y="528.25" width="4.3" height="4.3" fill="#111"/>
<line x1="78.9" y1="534.15" x2="78.9" y2="539.78" stroke="#555" stroke-width="0.8"/>
<line x1="77.7" y1="534.15" x2="80.1" y2="534.15" stroke="#555" stroke-width="0.8"/>
<line x1="77.7" y1="539.78" x2="80.1" y2="539.78" stroke="#555" stroke-width="0.8"/>
<rect x="76.75" y="534.82" width="4.3" height="4.3" fill="#111"/>
<line x1="126.8" y1="579.55" x2="126.8" y2="585.18" stroke="#555" stroke-width="0.8"/>
<line x1="125.6" y1="579.55" x2="128" y2="579.55" stroke="#555" stroke-width="0.8"/>
<line x1="125.6" y1="585.18" x2="128" y2="585.18" stroke="#555" stroke-width="0.8"/>
<rect x="124.65" y="580.22" width="4.3" height="4.3" fill="#111"/>
<line x1="222.6" y1="713.31" x2="222.6" y2="715.19" stroke="#555" stroke-width="0.8"/>
<line x1="221.4" y1="713.31" x2="223.8" y2="713.31" stroke="#555" stroke-width="0.8"/>
<line x1="221.4" y1="715.19" x2="223.8" y2="715.19" stroke="#555" stroke-width="0.8"/>
<rect x="220.45" y="712.1" width="4.3" height="4.3" fill="#111"/>
<text x="263.3" y="519.6" font-size="22" font-weight="bold" fill="#000" stroke="#000" stroke-width="0.15">F</text>
<line x1="299.3" y1="517.8" x2="299.3" y2="717.3" stroke="#7a7a7a" stroke-width="1"/>
<line x1="297" y1="517.8" x2="299.3" y2="517.8" stroke="#7a7a7a" stroke-width="0.9"/>
<text x="293.7" y="520.4" font-size="7.6" text-anchor="end" fill="#333" stroke="#333" stroke-width="0.15">-5.0</text>
<line x1="297" y1="546.3" x2="299.3" y2="546.3" stroke="#7a7a7a" stroke-width="0.9"/>
<text x="293.7" y="548.9" font-size="7.6" text-anchor="end" fill="#333" stroke="#333" stroke-width="0.15">-4.0</text>
<line x1="297" y1="574.8" x2="299.3" y2="574.8" stroke="#7a7a7a" stroke-width="0.9"/>
<text x="293.7" y="577.4" font-size="7.6" text-anchor="end" fill="#333" stroke="#333" stroke-width="0.15">-3.0</text>
<line x1="297" y1="603.3" x2="299.3" y2="603.3" stroke="#7a7a7a" stroke-width="0.9"/>
<text x="293.7" y="605.9" font-size="7.6" text-anchor="end" fill="#333" stroke="#333" stroke-width="0.15">-2.0</text>
<line x1="297" y1="631.8" x2="299.3" y2="631.8" stroke="#7a7a7a" stroke-width="0.9"/>
<text x="293.7" y="634.4" font-size="7.6" text-anchor="end" fill="#333" stroke="#333" stroke-width="0.15">-1.0</text>
<line x1="297" y1="660.3" x2="299.3" y2="660.3" stroke="#7a7a7a" stroke-width="0.9"/>
<text x="293.7" y="662.9" font-size="7.6" text-anchor="end" fill="#333" stroke="#333" stroke-width="0.15">0.0</text>
<line x1="297" y1="688.8" x2="299.3" y2="688.8" stroke="#7a7a7a" stroke-width="0.9"/>
<text x="293.7" y="691.4" font-size="7.6" text-anchor="end" fill="#333" stroke="#333" stroke-width="0.15">1.0</text>
<line x1="297" y1="717.3" x2="299.3" y2="717.3" stroke="#7a7a7a" stroke-width="0.9"/>
<text x="293.7" y="719.9" font-size="7.6" text-anchor="end" fill="#333" stroke="#333" stroke-width="0.15">2.0</text>
<text x="302.7" y="543.8" font-size="8.8" fill="#1a1a1a" stroke="#1a1a1a" stroke-width="0.15">synergy</text>
<text x="302.3" y="670" font-size="8.8" fill="#1a1a1a" stroke="#1a1a1a" stroke-width="0.15">independence</text>
<text x="302.3" y="713.3" font-size="8.8" fill="#1a1a1a" stroke="#1a1a1a" stroke-width="0.15">antagonism</text>
<text x="0" y="0" font-size="8.6" text-anchor="middle" fill="#1a1a1a" stroke="#1a1a1a" stroke-width="0.15" transform="translate(273.3,609.8) rotate(-90)">Bliss independence (log2 scale)</text>
<path d="M299.5,660.3 L299.5,654.03 L302.9,654.03 L302.9,632.08 L306.3,632.08 L306.3,656.59 L309.7,656.59 L309.7,622.96 L313.1,622.96 L313.1,622.96 L316.5,622.96 L316.5,660.3Z" fill="#0a0a0a"/>
<path d="M320.03,660.3 L320.03,620.4 L323.43,620.4 L323.43,575.94 L326.83,575.94 L326.83,599.31 L330.23,599.31 L330.23,582.78 L333.63,582.78 L333.63,648.04 L337.03,648.04 L337.03,660.3Z" fill="#0a0a0a"/>
<path d="M340.56,660.3 L340.56,653.46 L343.96,653.46 L343.96,637.21 L347.36,637.21 L347.36,612.7 L350.76,612.7 L350.76,628.38 L354.16,628.38 L354.16,640.35 L357.56,640.35 L357.56,660.3Z" fill="#0a0a0a"/>
<path d="M361.09,660.3 L361.09,616.69 L364.49,616.69 L364.49,579.36 L367.89,579.36 L367.89,592.47 L371.29,592.47 L371.29,618.4 L374.69,618.4 L374.69,591.04 L378.09,591.04 L378.09,660.3Z" fill="#0a0a0a"/>
<path d="M381.62,660.3 L381.62,647.19 L385.02,647.19 L385.02,626.1 L388.42,626.1 L388.42,571.66 L391.82,571.66 L391.82,632.94 L395.22,632.94 L395.22,606.15 L398.62,606.15 L398.62,660.3Z" fill="#0a0a0a"/>
<path d="M402.15,660.3 L402.15,628.66 L405.55,628.66 L405.55,576.51 L408.95,576.51 L408.95,589.62 L412.35,589.62 L412.35,602.16 L415.75,602.16 L415.75,617.26 L419.15,617.26 L419.15,660.3Z" fill="#0a0a0a"/>
<path d="M422.68,660.3 L422.68,659.44 L426.08,659.44 L426.08,668.28 L429.48,668.28 L429.48,663.43 L432.88,663.43 L432.88,636.93 L436.28,636.93 L436.28,640.35 L439.68,640.35 L439.68,660.3Z" fill="#0a0a0a"/>
<path d="M443.21,660.3 L443.21,628.95 L446.61,628.95 L446.61,615.84 L450.01,615.84 L450.01,638.92 L453.41,638.92 L453.41,645.19 L456.81,645.19 L456.81,647.76 L460.21,647.76 L460.21,660.3Z" fill="#0a0a0a"/>
<path d="M463.74,660.3 L463.74,653.17 L467.14,653.17 L467.14,642.91 L470.54,642.91 L470.54,647.76 L473.94,647.76 L473.94,643.48 L477.34,643.48 L477.34,579.07 L480.74,579.07 L480.74,660.3Z" fill="#0a0a0a"/>
<path d="M484.27,660.3 L484.27,618.4 L487.67,618.4 L487.67,573.94 L491.07,573.94 L491.07,582.21 L494.47,582.21 L494.47,546.3 L497.87,546.3 L497.87,571.09 L501.27,571.09 L501.27,660.3Z" fill="#0a0a0a"/>
<text x="252.8" y="728.6" font-size="8.5" fill="#1a1a1a" stroke="#1a1a1a" stroke-width="0.15">pristimerin:</text>
<text x="252.8" y="739.8" font-size="8.4" fill="#1a1a1a" stroke="#1a1a1a" stroke-width="0.15">bortezomib:</text>
<text x="507" y="728.2" font-size="8.4" fill="#1a1a1a" stroke="#1a1a1a" stroke-width="0.15">nM</text>
<text x="507" y="739.7" font-size="8.4" fill="#1a1a1a" stroke="#1a1a1a" stroke-width="0.15">nM</text>
<text x="0" y="0" font-size="4.9" text-anchor="end" fill="#444" stroke="#444" stroke-width="0.1" transform="translate(302.7,721) rotate(-90)">200</text>
<text x="0" y="0" font-size="4.9" text-anchor="end" fill="#444" stroke="#444" stroke-width="0.1" transform="translate(309.5,721) rotate(-90)">600</text>
<text x="0" y="0" font-size="4.9" text-anchor="end" fill="#444" stroke="#444" stroke-width="0.1" transform="translate(316.3,721) rotate(-90)">1000</text>
<text x="308" y="740.2" font-size="6.8" text-anchor="middle" fill="#222" stroke="#222" stroke-width="0.15">1</text>
<text x="0" y="0" font-size="4.9" text-anchor="end" fill="#444" stroke="#444" stroke-width="0.1" transform="translate(323.23,721) rotate(-90)">200</text>
<text x="0" y="0" font-size="4.9" text-anchor="end" fill="#444" stroke="#444" stroke-width="0.1" transform="translate(330.03,721) rotate(-90)">600</text>
<text x="0" y="0" font-size="4.9" text-anchor="end" fill="#444" stroke="#444" stroke-width="0.1" transform="translate(336.83,721) rotate(-90)">1000</text>
<text x="328.53" y="740.2" font-size="6.8" text-anchor="middle" fill="#222" stroke="#222" stroke-width="0.15">2</text>
<text x="0" y="0" font-size="4.9" text-anchor="end" fill="#444" stroke="#444" stroke-width="0.1" transform="translate(343.76,721) rotate(-90)">200</text>
<text x="0" y="0" font-size="4.9" text-anchor="end" fill="#444" stroke="#444" stroke-width="0.1" transform="translate(350.56,721) rotate(-90)">600</text>
<text x="0" y="0" font-size="4.9" text-anchor="end" fill="#444" stroke="#444" stroke-width="0.1" transform="translate(357.36,721) rotate(-90)">1000</text>
<text x="349.06" y="740.2" font-size="6.8" text-anchor="middle" fill="#222" stroke="#222" stroke-width="0.15">1</text>
<text x="0" y="0" font-size="4.9" text-anchor="end" fill="#444" stroke="#444" stroke-width="0.1" transform="translate(364.29,721) rotate(-90)">200</text>
<text x="0" y="0" font-size="4.9" text-anchor="end" fill="#444" stroke="#444" stroke-width="0.1" transform="translate(371.09,721) rotate(-90)">600</text>
<text x="0" y="0" font-size="4.9" text-anchor="end" fill="#444" stroke="#444" stroke-width="0.1" transform="translate(377.89,721) rotate(-90)">1000</text>
<text x="369.59" y="740.2" font-size="6.8" text-anchor="middle" fill="#222" stroke="#222" stroke-width="0.15">2</text>
<text x="0" y="0" font-size="4.9" text-anchor="end" fill="#444" stroke="#444" stroke-width="0.1" transform="translate(384.82,721) rotate(-90)">200</text>
<text x="0" y="0" font-size="4.9" text-anchor="end" fill="#444" stroke="#444" stroke-width="0.1" transform="translate(391.62,721) rotate(-90)">600</text>
<text x="0" y="0" font-size="4.9" text-anchor="end" fill="#444" stroke="#444" stroke-width="0.1" transform="translate(398.42,721) rotate(-90)">1000</text>
<text x="390.12" y="740.2" font-size="6.8" text-anchor="middle" fill="#222" stroke="#222" stroke-width="0.15">1</text>
<text x="0" y="0" font-size="4.9" text-anchor="end" fill="#444" stroke="#444" stroke-width="0.1" transform="translate(405.35,721) rotate(-90)">200</text>
<text x="0" y="0" font-size="4.9" text-anchor="end" fill="#444" stroke="#444" stroke-width="0.1" transform="translate(412.15,721) rotate(-90)">600</text>
<text x="0" y="0" font-size="4.9" text-anchor="end" fill="#444" stroke="#444" stroke-width="0.1" transform="translate(418.95,721) rotate(-90)">1000</text>
<text x="410.65" y="740.2" font-size="6.8" text-anchor="middle" fill="#222" stroke="#222" stroke-width="0.15">2</text>
<text x="0" y="0" font-size="4.9" text-anchor="end" fill="#444" stroke="#444" stroke-width="0.1" transform="translate(425.88,721) rotate(-90)">200</text>
<text x="0" y="0" font-size="4.9" text-anchor="end" fill="#444" stroke="#444" stroke-width="0.1" transform="translate(432.68,721) rotate(-90)">600</text>
<text x="0" y="0" font-size="4.9" text-anchor="end" fill="#444" stroke="#444" stroke-width="0.1" transform="translate(439.48,721) rotate(-90)">1000</text>
<text x="431.18" y="740.2" font-size="6.8" text-anchor="middle" fill="#222" stroke="#222" stroke-width="0.15">1</text>
<text x="0" y="0" font-size="4.9" text-anchor="end" fill="#444" stroke="#444" stroke-width="0.1" transform="translate(446.41,721) rotate(-90)">200</text>
<text x="0" y="0" font-size="4.9" text-anchor="end" fill="#444" stroke="#444" stroke-width="0.1" transform="translate(453.21,721) rotate(-90)">600</text>
<text x="0" y="0" font-size="4.9" text-anchor="end" fill="#444" stroke="#444" stroke-width="0.1" transform="translate(460.01,721) rotate(-90)">1000</text>
<text x="451.71" y="740.2" font-size="6.8" text-anchor="middle" fill="#222" stroke="#222" stroke-width="0.15">2</text>
<text x="0" y="0" font-size="4.9" text-anchor="end" fill="#444" stroke="#444" stroke-width="0.1" transform="translate(466.94,721) rotate(-90)">200</text>
<text x="0" y="0" font-size="4.9" text-anchor="end" fill="#444" stroke="#444" stroke-width="0.1" transform="translate(473.74,721) rotate(-90)">600</text>
<text x="0" y="0" font-size="4.9" text-anchor="end" fill="#444" stroke="#444" stroke-width="0.1" transform="translate(480.54,721) rotate(-90)">1000</text>
<text x="472.24" y="740.2" font-size="6.8" text-anchor="middle" fill="#222" stroke="#222" stroke-width="0.15">1</text>
<text x="0" y="0" font-size="4.9" text-anchor="end" fill="#444" stroke="#444" stroke-width="0.1" transform="translate(487.47,721) rotate(-90)">200</text>
<text x="0" y="0" font-size="4.9" text-anchor="end" fill="#444" stroke="#444" stroke-width="0.1" transform="translate(494.27,721) rotate(-90)">600</text>
<text x="0" y="0" font-size="4.9" text-anchor="end" fill="#444" stroke="#444" stroke-width="0.1" transform="translate(501.07,721) rotate(-90)">1000</text>
<text x="492.77" y="740.2" font-size="6.8" text-anchor="middle" fill="#222" stroke="#222" stroke-width="0.15">2</text>
<line x1="338.76" y1="720.4" x2="338.76" y2="744.6" stroke="#8a8a8a" stroke-width="0.9"/>
<line x1="379.82" y1="720.4" x2="379.82" y2="744.6" stroke="#8a8a8a" stroke-width="0.9"/>
<line x1="420.88" y1="720.4" x2="420.88" y2="744.6" stroke="#8a8a8a" stroke-width="0.9"/>
<line x1="461.94" y1="720.4" x2="461.94" y2="744.6" stroke="#8a8a8a" stroke-width="0.9"/>
<text x="318.23" y="754.4" font-size="8.6" text-anchor="middle" fill="#1a1a1a" stroke="#1a1a1a" stroke-width="0.15">SKMM2</text>
<text x="359.29" y="754.4" font-size="8.6" text-anchor="middle" fill="#1a1a1a" stroke="#1a1a1a" stroke-width="0.15">KMS12PE</text>
<text x="400.35" y="754.4" font-size="8.6" text-anchor="middle" fill="#1a1a1a" stroke="#1a1a1a" stroke-width="0.15">JJN3</text>
<text x="441.41" y="754.4" font-size="8.6" text-anchor="middle" fill="#1a1a1a" stroke="#1a1a1a" stroke-width="0.15">H929</text>
<text x="482.47" y="754.4" font-size="8.6" text-anchor="middle" fill="#1a1a1a" stroke="#1a1a1a" stroke-width="0.15">MY5</text>
</svg>
</body></html>
